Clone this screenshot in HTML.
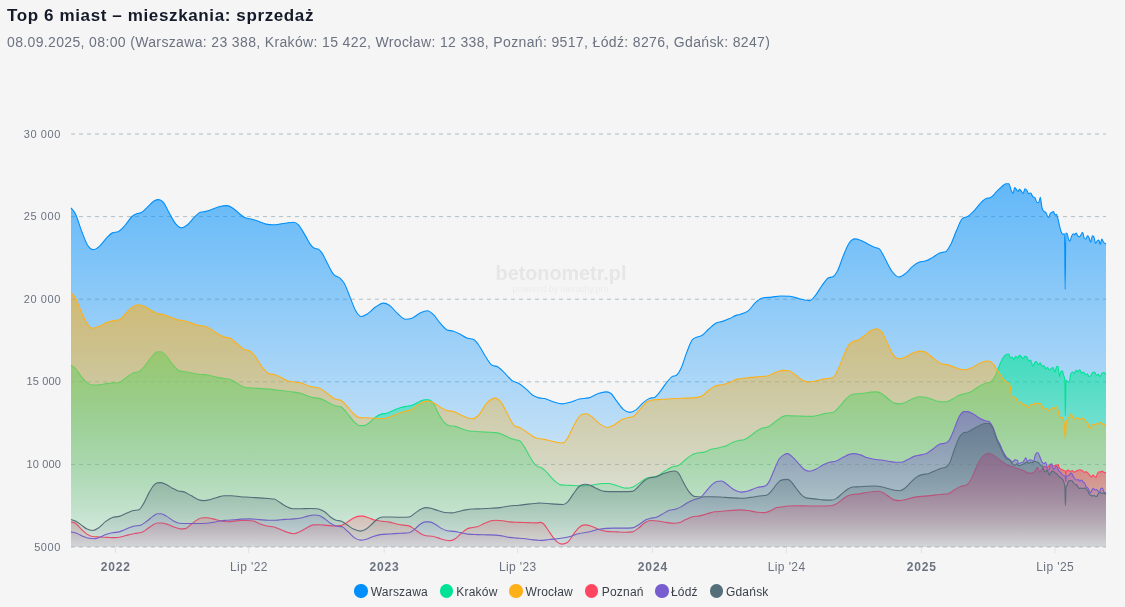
<!DOCTYPE html>
<html lang="pl"><head><meta charset="utf-8"><title>Top 6 miast – mieszkania: sprzedaż</title>
<style>
html,body{margin:0;padding:0;background:#f5f5f5;}
body{width:1125px;height:607px;overflow:hidden;position:relative;font-family:"Liberation Sans",sans-serif;}
.title{position:absolute;left:7px;top:5.6px;font-size:17px;line-height:20px;font-weight:700;color:#141a29;white-space:nowrap;letter-spacing:0.62px}
.sub{position:absolute;left:7px;top:32.7px;font-size:14px;line-height:18px;color:#6b7280;white-space:nowrap;letter-spacing:0.355px}
svg{position:absolute;left:0;top:0}
.dot{position:absolute;top:584.4px;width:13.2px;height:13.2px;border-radius:50%}
.lt{position:absolute;top:585px;font-size:12px;line-height:14px;color:#3b414b;white-space:nowrap;letter-spacing:0.22px}
</style></head><body>
<div class="title">Top 6 miast – mieszkania: sprzedaż</div>
<div class="sub">08.09.2025, 08:00 (Warszawa: 23 388, Kraków: 15 422, Wrocław: 12 338, Poznań: 9517, Łódź: 8276, Gdańsk: 8247)</div>
<svg width="1125" height="607" viewBox="0 0 1125 607">
<defs>
<linearGradient id="g0" gradientUnits="userSpaceOnUse" x1="0" y1="183.8" x2="0" y2="547"><stop offset="0" stop-color="#008FFB" stop-opacity="0.60"/><stop offset="1" stop-color="#008FFB" stop-opacity="0.05"/></linearGradient>
<linearGradient id="g1" gradientUnits="userSpaceOnUse" x1="0" y1="351.7" x2="0" y2="547"><stop offset="0" stop-color="#00E396" stop-opacity="0.60"/><stop offset="1" stop-color="#00E396" stop-opacity="0.05"/></linearGradient>
<linearGradient id="g2" gradientUnits="userSpaceOnUse" x1="0" y1="292.5" x2="0" y2="547"><stop offset="0" stop-color="#FEB019" stop-opacity="0.60"/><stop offset="1" stop-color="#FEB019" stop-opacity="0.05"/></linearGradient>
<linearGradient id="g3" gradientUnits="userSpaceOnUse" x1="0" y1="453.4" x2="0" y2="547"><stop offset="0" stop-color="#FF4560" stop-opacity="0.62"/><stop offset="1" stop-color="#FF4560" stop-opacity="0.05"/></linearGradient>
<linearGradient id="g4" gradientUnits="userSpaceOnUse" x1="0" y1="411.6" x2="0" y2="547"><stop offset="0" stop-color="#775DD0" stop-opacity="0.58"/><stop offset="1" stop-color="#775DD0" stop-opacity="0.05"/></linearGradient>
<linearGradient id="g5" gradientUnits="userSpaceOnUse" x1="0" y1="423.5" x2="0" y2="547"><stop offset="0" stop-color="#546E7A" stop-opacity="0.56"/><stop offset="1" stop-color="#546E7A" stop-opacity="0.05"/></linearGradient>
</defs>
<g stroke="#b0c0c8" stroke-width="1" stroke-dasharray="4 4" fill="none"><line x1="71" y1="134.0" x2="1106" y2="134.0"/><line x1="71" y1="216.6" x2="1106" y2="216.6"/><line x1="71" y1="299.2" x2="1106" y2="299.2"/><line x1="71" y1="381.8" x2="1106" y2="381.8"/><line x1="71" y1="464.4" x2="1106" y2="464.4"/><line x1="71" y1="547.0" x2="1106" y2="547.0"/></g>
<g font-family="Liberation Sans, sans-serif" font-size="19.8" font-weight="700" fill="#e6e6e6"><text x="495.6" y="280.2">betonometr.pl</text></g>
<g font-family="Liberation Sans, sans-serif" font-size="8.8" fill="#ebebeb"><text x="512.6" y="291.5">powered by nieruchy.pro</text></g>
<path d="M71.00 207.92C72.47 209.85 73.93 210.83 75.40 213.70C77.33 217.47 79.25 224.89 81.18 229.88C83.49 235.86 85.80 242.80 88.11 246.05C89.81 248.44 91.50 249.75 93.20 249.75C95.35 249.75 97.51 247.91 99.67 246.05C101.98 244.07 104.29 240.30 106.60 237.96C108.53 236.02 110.45 233.65 112.38 232.88C114.30 232.11 116.23 232.50 118.15 231.72C120.47 230.80 122.78 227.80 125.09 225.25C127.40 222.71 129.71 218.47 132.02 216.47C133.56 215.14 135.10 214.35 136.64 213.70C138.18 213.04 139.72 213.31 141.27 212.54C143.58 211.39 145.89 208.41 148.20 206.30C150.12 204.55 152.05 202.10 153.98 200.99C155.52 200.10 157.06 199.60 158.60 199.60C160.14 199.60 161.68 200.45 163.22 202.14C165.15 204.26 167.07 209.19 169.00 212.54C171.31 216.56 173.62 221.54 175.93 224.10C177.86 226.23 179.78 227.80 181.71 227.80C183.63 227.80 185.56 226.30 187.49 224.79C189.80 222.98 192.11 219.38 194.42 217.17C196.35 215.32 198.27 212.93 200.20 212.31C202.12 211.70 204.05 211.85 205.98 211.39C208.29 210.84 210.60 209.89 212.91 209.08C215.22 208.27 217.53 207.11 219.84 206.53C222.15 205.96 224.46 205.61 226.77 205.61C228.70 205.61 230.63 206.77 232.55 207.92C234.86 209.30 237.17 211.92 239.49 213.70C241.41 215.18 243.34 217.09 245.26 217.86C247.57 218.78 249.89 218.63 252.20 219.25C254.51 219.86 256.82 220.75 259.13 221.56C261.44 222.37 263.75 223.64 266.06 224.10C268.37 224.56 270.69 224.79 273.00 224.79C275.31 224.79 277.62 224.41 279.93 224.10C282.24 223.79 284.55 223.25 286.86 222.94C289.17 222.63 291.48 222.25 293.80 222.25C295.34 222.25 296.88 223.32 298.42 224.79C300.73 227.00 303.04 231.89 305.35 235.65C307.28 238.79 309.20 243.10 311.13 245.36C312.28 246.71 313.44 247.90 314.60 248.36C315.75 248.83 316.91 248.60 318.06 249.06C319.22 249.52 320.37 250.79 321.53 252.29C323.33 254.64 325.13 259.16 326.93 262.46C329.24 266.69 331.56 272.14 333.87 274.70C335.79 276.84 337.72 276.23 339.64 277.94C341.18 279.31 342.73 280.63 344.27 283.25C346.19 286.54 348.12 292.50 350.04 297.12C351.97 301.74 353.90 307.73 355.82 310.99C357.59 313.99 359.37 316.53 361.14 316.53C363.22 316.53 365.30 315.25 367.38 313.99C370.07 312.37 372.77 308.87 375.47 307.06C378.16 305.25 380.86 303.13 383.55 303.13C385.48 303.13 387.41 304.00 389.33 305.21C392.03 306.90 394.72 310.95 397.42 313.30C400.12 315.65 402.81 319.31 405.51 319.31C407.82 319.31 410.13 318.84 412.44 317.92C415.14 316.85 417.84 314.05 420.53 312.84C422.84 311.79 425.15 310.76 427.46 310.76C429.39 310.76 431.32 312.67 433.24 314.45C435.55 316.59 437.86 320.66 440.18 323.24C442.49 325.82 444.80 329.01 447.11 329.94C449.03 330.71 450.96 330.50 452.89 331.09C455.20 331.80 457.51 332.94 459.82 334.10C462.13 335.25 464.44 337.14 466.75 338.03C469.06 338.91 471.38 338.49 473.69 339.41C475.23 340.03 476.77 342.45 478.31 344.50C480.62 347.56 482.93 352.59 485.24 356.05C487.55 359.52 489.86 364.00 492.17 365.30C494.10 366.38 496.03 365.84 497.95 366.92C500.26 368.21 502.57 371.15 504.89 373.39C507.20 375.62 509.51 378.61 511.82 380.32C514.31 382.16 516.80 382.22 519.29 383.76C521.60 385.19 523.91 387.11 526.22 389.08C528.53 391.04 530.84 394.06 533.15 395.55C535.08 396.78 537.01 397.40 538.93 397.86C540.86 398.32 542.78 398.13 544.71 398.55C547.79 399.22 550.87 401.10 553.95 402.02C556.65 402.82 559.35 403.87 562.04 403.87C564.74 403.87 567.44 402.98 570.13 402.25C573.21 401.42 576.29 399.75 579.38 399.01C582.46 398.28 585.54 398.63 588.62 397.86C591.70 397.09 594.78 394.72 597.86 393.70C600.56 392.80 603.26 391.85 605.95 391.85C607.49 391.85 609.03 392.31 610.58 393.24C612.50 394.39 614.43 398.18 616.35 400.63C618.66 403.58 620.98 407.45 623.29 409.41C625.44 411.25 627.60 412.42 629.76 412.42C631.84 412.42 633.92 411.31 636.00 409.88C638.31 408.29 640.62 404.87 642.93 402.94C645.24 401.02 647.55 399.21 649.86 398.32C651.40 397.72 652.95 398.01 654.49 397.40C656.41 396.63 658.34 393.74 660.26 391.39C662.19 389.04 664.12 385.73 666.04 383.30C667.97 380.87 669.89 378.16 671.82 376.83C673.36 375.76 674.90 376.29 676.44 375.21C677.98 374.13 679.52 371.48 681.06 368.28C682.99 364.28 684.91 356.91 686.84 352.10C688.77 347.28 690.69 341.31 692.62 339.39C694.16 337.85 695.70 337.73 697.24 337.08C698.78 336.42 700.32 336.36 701.86 335.46C704.17 334.11 706.48 331.03 708.80 328.99C711.11 326.95 713.42 324.44 715.73 323.21C718.04 321.98 720.35 322.13 722.66 321.36C724.97 320.59 727.28 319.63 729.60 318.59C731.91 317.55 734.22 315.82 736.53 315.12C737.68 314.78 738.84 314.75 740.00 314.43C742.83 313.65 745.66 312.90 748.49 310.55C750.80 308.63 753.11 304.77 755.42 302.69C757.73 300.61 760.04 298.53 762.35 298.07C765.44 297.45 768.52 297.49 771.60 297.15C774.68 296.80 777.76 295.99 780.84 295.99C783.92 295.99 787.01 296.07 790.09 296.22C793.17 296.38 796.25 298.06 799.33 298.76C802.80 299.56 806.27 300.61 809.73 300.61C811.66 300.61 813.58 297.58 815.51 295.30C817.82 292.56 820.13 287.99 822.44 284.90C824.37 282.32 826.29 278.93 828.22 277.96C829.76 277.19 831.30 277.58 832.84 276.81C834.38 276.04 835.92 273.88 837.46 271.03C839.39 267.47 841.32 260.63 843.24 256.01C845.17 251.39 847.09 246.15 849.02 243.30C850.95 240.45 852.87 238.91 854.80 238.91C856.72 238.91 858.65 239.61 860.58 240.29C863.27 241.25 865.97 243.12 868.66 244.45C870.59 245.41 872.52 246.50 874.44 247.23C875.98 247.81 877.52 247.69 879.06 248.61C880.99 249.77 882.92 254.95 884.84 258.32C887.15 262.36 889.46 267.91 891.77 271.03C894.09 274.15 896.40 277.04 898.71 277.04C901.02 277.04 903.33 275.11 905.64 273.34C907.95 271.57 910.26 268.30 912.57 266.41C914.89 264.52 917.20 262.76 919.51 262.02C921.43 261.40 923.36 261.70 925.29 261.09C927.60 260.37 929.91 258.94 932.22 257.63C934.53 256.32 936.84 254.28 939.15 253.24C941.46 252.20 943.77 252.62 946.09 251.39C947.63 250.57 949.17 247.38 950.71 244.45C952.63 240.80 954.56 234.90 956.48 230.59C958.41 226.27 960.34 220.11 962.26 218.57C964.19 217.03 966.11 217.50 968.04 216.26C970.35 214.77 972.66 212.21 974.97 209.79C977.28 207.36 979.60 203.82 981.91 201.70C983.45 200.29 984.99 198.64 986.53 198.23C987.68 197.92 988.84 198.08 990.00 197.77C992.13 197.20 994.27 193.97 996.41 191.92C998.20 190.20 999.98 188.00 1001.76 186.56C1003.19 185.41 1004.62 183.78 1006.05 183.78C1006.98 183.78 1007.90 183.78 1008.83 183.78C1009.69 183.78 1010.55 189.07 1011.40 190.85C1011.97 192.03 1012.55 193.63 1013.12 193.63C1013.62 193.63 1014.12 187.63 1014.62 187.63C1015.19 187.63 1015.76 188.65 1016.33 189.35C1016.83 189.96 1017.33 191.49 1017.83 191.49C1018.40 191.49 1018.97 189.35 1019.54 189.35C1020.04 189.35 1020.54 190.29 1021.04 190.85C1021.75 191.65 1022.47 193.63 1023.18 193.63C1023.75 193.63 1024.32 188.71 1024.90 188.71C1025.54 188.71 1026.18 189.29 1026.82 190.20C1027.39 191.02 1027.97 193.63 1028.54 193.63C1029.25 193.63 1029.97 192.99 1030.68 192.99C1031.39 192.99 1032.11 195.81 1032.82 196.63C1033.53 197.45 1034.25 197.06 1034.96 197.91C1035.68 198.77 1036.39 202.63 1037.10 202.63C1037.68 202.63 1038.25 202.48 1038.82 202.20C1039.32 201.95 1039.82 197.27 1040.32 197.27C1040.82 197.27 1041.32 204.61 1041.82 206.91C1042.39 209.53 1042.96 210.62 1043.53 211.19C1044.24 211.91 1044.96 211.55 1045.67 212.26C1046.60 213.19 1047.53 217.62 1048.46 217.62C1049.10 217.62 1049.74 214.14 1050.38 213.34C1050.95 212.62 1051.53 212.56 1052.10 212.26C1052.60 212.00 1053.10 211.62 1053.60 211.62C1054.02 211.62 1054.45 215.05 1054.88 215.05C1055.38 215.05 1055.88 214.41 1056.38 214.41C1056.88 214.41 1057.38 216.91 1057.88 218.69C1058.45 220.73 1059.02 223.99 1059.59 226.19C1060.31 228.94 1061.02 231.97 1061.73 233.04C1062.31 233.90 1062.88 234.33 1063.45 234.33C1063.81 234.33 1064.16 233.68 1064.52 233.68C1064.73 233.68 1064.95 289.37 1065.16 289.37C1065.38 289.37 1065.59 233.04 1065.80 233.04C1066.23 233.04 1066.66 233.25 1067.09 233.68C1067.66 234.25 1068.23 238.97 1068.80 240.11C1069.16 240.82 1069.52 241.18 1069.87 241.18C1070.37 241.18 1070.87 238.09 1071.37 236.90C1071.94 235.53 1072.52 233.68 1073.09 233.68C1073.59 233.68 1074.09 234.75 1074.59 234.75C1075.09 234.75 1075.59 233.04 1076.08 233.04C1076.66 233.04 1077.23 235.18 1077.80 235.82C1078.37 236.47 1078.94 236.90 1079.51 236.90C1080.01 236.90 1080.51 235.54 1081.01 234.75C1081.51 233.97 1082.01 232.18 1082.51 232.18C1083.08 232.18 1083.65 237.25 1084.22 237.97C1084.79 238.68 1085.37 239.04 1085.94 239.04C1086.44 239.04 1086.94 235.82 1087.44 235.82C1088.01 235.82 1088.58 236.76 1089.15 237.97C1089.65 239.02 1090.15 242.25 1090.65 242.25C1091.22 242.25 1091.79 235.82 1092.36 235.82C1092.86 235.82 1093.36 236.18 1093.86 236.90C1094.43 237.71 1095.00 243.32 1095.58 243.32C1096.07 243.32 1096.57 241.71 1097.07 241.18C1097.65 240.58 1098.22 240.11 1098.79 240.11C1099.29 240.11 1099.79 244.39 1100.29 244.39C1100.79 244.39 1101.29 239.04 1101.79 239.04C1102.36 239.04 1102.93 241.47 1103.50 242.25C1104.33 243.39 1105.17 243.39 1106.00 243.96L1106.00 547 L71.00 547 Z" fill="url(#g0)" stroke="none"/>
<path d="M71.00 207.92C72.47 209.85 73.93 210.83 75.40 213.70C77.33 217.47 79.25 224.89 81.18 229.88C83.49 235.86 85.80 242.80 88.11 246.05C89.81 248.44 91.50 249.75 93.20 249.75C95.35 249.75 97.51 247.91 99.67 246.05C101.98 244.07 104.29 240.30 106.60 237.96C108.53 236.02 110.45 233.65 112.38 232.88C114.30 232.11 116.23 232.50 118.15 231.72C120.47 230.80 122.78 227.80 125.09 225.25C127.40 222.71 129.71 218.47 132.02 216.47C133.56 215.14 135.10 214.35 136.64 213.70C138.18 213.04 139.72 213.31 141.27 212.54C143.58 211.39 145.89 208.41 148.20 206.30C150.12 204.55 152.05 202.10 153.98 200.99C155.52 200.10 157.06 199.60 158.60 199.60C160.14 199.60 161.68 200.45 163.22 202.14C165.15 204.26 167.07 209.19 169.00 212.54C171.31 216.56 173.62 221.54 175.93 224.10C177.86 226.23 179.78 227.80 181.71 227.80C183.63 227.80 185.56 226.30 187.49 224.79C189.80 222.98 192.11 219.38 194.42 217.17C196.35 215.32 198.27 212.93 200.20 212.31C202.12 211.70 204.05 211.85 205.98 211.39C208.29 210.84 210.60 209.89 212.91 209.08C215.22 208.27 217.53 207.11 219.84 206.53C222.15 205.96 224.46 205.61 226.77 205.61C228.70 205.61 230.63 206.77 232.55 207.92C234.86 209.30 237.17 211.92 239.49 213.70C241.41 215.18 243.34 217.09 245.26 217.86C247.57 218.78 249.89 218.63 252.20 219.25C254.51 219.86 256.82 220.75 259.13 221.56C261.44 222.37 263.75 223.64 266.06 224.10C268.37 224.56 270.69 224.79 273.00 224.79C275.31 224.79 277.62 224.41 279.93 224.10C282.24 223.79 284.55 223.25 286.86 222.94C289.17 222.63 291.48 222.25 293.80 222.25C295.34 222.25 296.88 223.32 298.42 224.79C300.73 227.00 303.04 231.89 305.35 235.65C307.28 238.79 309.20 243.10 311.13 245.36C312.28 246.71 313.44 247.90 314.60 248.36C315.75 248.83 316.91 248.60 318.06 249.06C319.22 249.52 320.37 250.79 321.53 252.29C323.33 254.64 325.13 259.16 326.93 262.46C329.24 266.69 331.56 272.14 333.87 274.70C335.79 276.84 337.72 276.23 339.64 277.94C341.18 279.31 342.73 280.63 344.27 283.25C346.19 286.54 348.12 292.50 350.04 297.12C351.97 301.74 353.90 307.73 355.82 310.99C357.59 313.99 359.37 316.53 361.14 316.53C363.22 316.53 365.30 315.25 367.38 313.99C370.07 312.37 372.77 308.87 375.47 307.06C378.16 305.25 380.86 303.13 383.55 303.13C385.48 303.13 387.41 304.00 389.33 305.21C392.03 306.90 394.72 310.95 397.42 313.30C400.12 315.65 402.81 319.31 405.51 319.31C407.82 319.31 410.13 318.84 412.44 317.92C415.14 316.85 417.84 314.05 420.53 312.84C422.84 311.79 425.15 310.76 427.46 310.76C429.39 310.76 431.32 312.67 433.24 314.45C435.55 316.59 437.86 320.66 440.18 323.24C442.49 325.82 444.80 329.01 447.11 329.94C449.03 330.71 450.96 330.50 452.89 331.09C455.20 331.80 457.51 332.94 459.82 334.10C462.13 335.25 464.44 337.14 466.75 338.03C469.06 338.91 471.38 338.49 473.69 339.41C475.23 340.03 476.77 342.45 478.31 344.50C480.62 347.56 482.93 352.59 485.24 356.05C487.55 359.52 489.86 364.00 492.17 365.30C494.10 366.38 496.03 365.84 497.95 366.92C500.26 368.21 502.57 371.15 504.89 373.39C507.20 375.62 509.51 378.61 511.82 380.32C514.31 382.16 516.80 382.22 519.29 383.76C521.60 385.19 523.91 387.11 526.22 389.08C528.53 391.04 530.84 394.06 533.15 395.55C535.08 396.78 537.01 397.40 538.93 397.86C540.86 398.32 542.78 398.13 544.71 398.55C547.79 399.22 550.87 401.10 553.95 402.02C556.65 402.82 559.35 403.87 562.04 403.87C564.74 403.87 567.44 402.98 570.13 402.25C573.21 401.42 576.29 399.75 579.38 399.01C582.46 398.28 585.54 398.63 588.62 397.86C591.70 397.09 594.78 394.72 597.86 393.70C600.56 392.80 603.26 391.85 605.95 391.85C607.49 391.85 609.03 392.31 610.58 393.24C612.50 394.39 614.43 398.18 616.35 400.63C618.66 403.58 620.98 407.45 623.29 409.41C625.44 411.25 627.60 412.42 629.76 412.42C631.84 412.42 633.92 411.31 636.00 409.88C638.31 408.29 640.62 404.87 642.93 402.94C645.24 401.02 647.55 399.21 649.86 398.32C651.40 397.72 652.95 398.01 654.49 397.40C656.41 396.63 658.34 393.74 660.26 391.39C662.19 389.04 664.12 385.73 666.04 383.30C667.97 380.87 669.89 378.16 671.82 376.83C673.36 375.76 674.90 376.29 676.44 375.21C677.98 374.13 679.52 371.48 681.06 368.28C682.99 364.28 684.91 356.91 686.84 352.10C688.77 347.28 690.69 341.31 692.62 339.39C694.16 337.85 695.70 337.73 697.24 337.08C698.78 336.42 700.32 336.36 701.86 335.46C704.17 334.11 706.48 331.03 708.80 328.99C711.11 326.95 713.42 324.44 715.73 323.21C718.04 321.98 720.35 322.13 722.66 321.36C724.97 320.59 727.28 319.63 729.60 318.59C731.91 317.55 734.22 315.82 736.53 315.12C737.68 314.78 738.84 314.75 740.00 314.43C742.83 313.65 745.66 312.90 748.49 310.55C750.80 308.63 753.11 304.77 755.42 302.69C757.73 300.61 760.04 298.53 762.35 298.07C765.44 297.45 768.52 297.49 771.60 297.15C774.68 296.80 777.76 295.99 780.84 295.99C783.92 295.99 787.01 296.07 790.09 296.22C793.17 296.38 796.25 298.06 799.33 298.76C802.80 299.56 806.27 300.61 809.73 300.61C811.66 300.61 813.58 297.58 815.51 295.30C817.82 292.56 820.13 287.99 822.44 284.90C824.37 282.32 826.29 278.93 828.22 277.96C829.76 277.19 831.30 277.58 832.84 276.81C834.38 276.04 835.92 273.88 837.46 271.03C839.39 267.47 841.32 260.63 843.24 256.01C845.17 251.39 847.09 246.15 849.02 243.30C850.95 240.45 852.87 238.91 854.80 238.91C856.72 238.91 858.65 239.61 860.58 240.29C863.27 241.25 865.97 243.12 868.66 244.45C870.59 245.41 872.52 246.50 874.44 247.23C875.98 247.81 877.52 247.69 879.06 248.61C880.99 249.77 882.92 254.95 884.84 258.32C887.15 262.36 889.46 267.91 891.77 271.03C894.09 274.15 896.40 277.04 898.71 277.04C901.02 277.04 903.33 275.11 905.64 273.34C907.95 271.57 910.26 268.30 912.57 266.41C914.89 264.52 917.20 262.76 919.51 262.02C921.43 261.40 923.36 261.70 925.29 261.09C927.60 260.37 929.91 258.94 932.22 257.63C934.53 256.32 936.84 254.28 939.15 253.24C941.46 252.20 943.77 252.62 946.09 251.39C947.63 250.57 949.17 247.38 950.71 244.45C952.63 240.80 954.56 234.90 956.48 230.59C958.41 226.27 960.34 220.11 962.26 218.57C964.19 217.03 966.11 217.50 968.04 216.26C970.35 214.77 972.66 212.21 974.97 209.79C977.28 207.36 979.60 203.82 981.91 201.70C983.45 200.29 984.99 198.64 986.53 198.23C987.68 197.92 988.84 198.08 990.00 197.77C992.13 197.20 994.27 193.97 996.41 191.92C998.20 190.20 999.98 188.00 1001.76 186.56C1003.19 185.41 1004.62 183.78 1006.05 183.78C1006.98 183.78 1007.90 183.78 1008.83 183.78C1009.69 183.78 1010.55 189.07 1011.40 190.85C1011.97 192.03 1012.55 193.63 1013.12 193.63C1013.62 193.63 1014.12 187.63 1014.62 187.63C1015.19 187.63 1015.76 188.65 1016.33 189.35C1016.83 189.96 1017.33 191.49 1017.83 191.49C1018.40 191.49 1018.97 189.35 1019.54 189.35C1020.04 189.35 1020.54 190.29 1021.04 190.85C1021.75 191.65 1022.47 193.63 1023.18 193.63C1023.75 193.63 1024.32 188.71 1024.90 188.71C1025.54 188.71 1026.18 189.29 1026.82 190.20C1027.39 191.02 1027.97 193.63 1028.54 193.63C1029.25 193.63 1029.97 192.99 1030.68 192.99C1031.39 192.99 1032.11 195.81 1032.82 196.63C1033.53 197.45 1034.25 197.06 1034.96 197.91C1035.68 198.77 1036.39 202.63 1037.10 202.63C1037.68 202.63 1038.25 202.48 1038.82 202.20C1039.32 201.95 1039.82 197.27 1040.32 197.27C1040.82 197.27 1041.32 204.61 1041.82 206.91C1042.39 209.53 1042.96 210.62 1043.53 211.19C1044.24 211.91 1044.96 211.55 1045.67 212.26C1046.60 213.19 1047.53 217.62 1048.46 217.62C1049.10 217.62 1049.74 214.14 1050.38 213.34C1050.95 212.62 1051.53 212.56 1052.10 212.26C1052.60 212.00 1053.10 211.62 1053.60 211.62C1054.02 211.62 1054.45 215.05 1054.88 215.05C1055.38 215.05 1055.88 214.41 1056.38 214.41C1056.88 214.41 1057.38 216.91 1057.88 218.69C1058.45 220.73 1059.02 223.99 1059.59 226.19C1060.31 228.94 1061.02 231.97 1061.73 233.04C1062.31 233.90 1062.88 234.33 1063.45 234.33C1063.81 234.33 1064.16 233.68 1064.52 233.68C1064.73 233.68 1064.95 289.37 1065.16 289.37C1065.38 289.37 1065.59 233.04 1065.80 233.04C1066.23 233.04 1066.66 233.25 1067.09 233.68C1067.66 234.25 1068.23 238.97 1068.80 240.11C1069.16 240.82 1069.52 241.18 1069.87 241.18C1070.37 241.18 1070.87 238.09 1071.37 236.90C1071.94 235.53 1072.52 233.68 1073.09 233.68C1073.59 233.68 1074.09 234.75 1074.59 234.75C1075.09 234.75 1075.59 233.04 1076.08 233.04C1076.66 233.04 1077.23 235.18 1077.80 235.82C1078.37 236.47 1078.94 236.90 1079.51 236.90C1080.01 236.90 1080.51 235.54 1081.01 234.75C1081.51 233.97 1082.01 232.18 1082.51 232.18C1083.08 232.18 1083.65 237.25 1084.22 237.97C1084.79 238.68 1085.37 239.04 1085.94 239.04C1086.44 239.04 1086.94 235.82 1087.44 235.82C1088.01 235.82 1088.58 236.76 1089.15 237.97C1089.65 239.02 1090.15 242.25 1090.65 242.25C1091.22 242.25 1091.79 235.82 1092.36 235.82C1092.86 235.82 1093.36 236.18 1093.86 236.90C1094.43 237.71 1095.00 243.32 1095.58 243.32C1096.07 243.32 1096.57 241.71 1097.07 241.18C1097.65 240.58 1098.22 240.11 1098.79 240.11C1099.29 240.11 1099.79 244.39 1100.29 244.39C1100.79 244.39 1101.29 239.04 1101.79 239.04C1102.36 239.04 1102.93 241.47 1103.50 242.25C1104.33 243.39 1105.17 243.39 1106.00 243.96" fill="none" stroke="#008FFB" stroke-width="1.1" stroke-linejoin="round" stroke-linecap="butt"/>
<path d="M71.00 365.55C72.47 366.47 73.93 366.91 75.40 368.32C77.33 370.18 79.25 374.02 81.18 376.41C83.10 378.80 85.03 381.22 86.96 382.65C88.73 383.97 90.50 384.96 92.27 384.96C94.74 384.96 97.20 384.88 99.67 384.73C102.36 384.56 105.06 383.66 107.75 383.34C109.68 383.12 111.61 383.03 113.53 382.88C115.46 382.73 117.38 382.73 119.31 382.42C121.62 382.05 123.93 379.14 126.24 377.56C128.55 375.99 130.87 373.95 133.18 372.94C135.10 372.11 137.03 372.48 138.95 371.56C140.88 370.63 142.81 368.19 144.73 366.01C147.04 363.40 149.35 359.22 151.67 356.77C153.59 354.72 155.52 352.17 157.44 351.91C158.60 351.76 159.75 351.68 160.91 351.68C162.45 351.68 163.99 353.45 165.53 354.92C167.84 357.12 170.15 361.50 172.46 364.16C174.78 366.82 177.09 370.12 179.40 370.86C181.32 371.48 183.25 371.47 185.18 371.79C187.49 372.16 189.80 372.52 192.11 372.94C194.42 373.37 196.73 373.99 199.04 374.33C202.12 374.78 205.20 374.56 208.29 375.02C210.98 375.43 213.68 376.52 216.38 377.10C219.07 377.68 221.77 378.05 224.46 378.49C226.39 378.81 228.32 378.80 230.24 379.41C232.55 380.15 234.86 382.09 237.17 383.34C239.87 384.81 242.57 387.14 245.26 387.50C247.57 387.81 249.89 387.80 252.20 387.96C255.28 388.18 258.36 388.42 261.44 388.66C265.29 388.96 269.14 389.20 273.00 389.58C276.85 389.97 280.70 390.50 284.55 390.97C287.63 391.35 290.71 391.67 293.80 392.12C296.11 392.47 298.42 392.63 300.73 393.28C303.04 393.94 305.35 395.28 307.66 396.05C309.97 396.82 312.28 397.52 314.60 397.90C316.14 398.16 317.68 398.06 319.22 398.36C321.79 398.88 324.36 400.43 326.93 401.64C329.63 402.90 332.33 404.97 335.02 405.80C336.95 406.39 338.87 406.11 340.80 406.72C342.73 407.34 344.65 410.37 346.58 412.50C348.89 415.06 351.20 418.80 353.51 421.05C355.44 422.93 357.36 425.25 359.29 425.44C360.83 425.60 362.37 425.67 363.91 425.67C365.84 425.67 367.76 423.86 369.69 422.44C371.61 421.01 373.54 418.51 375.47 417.12C377.39 415.73 379.32 414.73 381.24 414.12C383.17 413.50 385.10 413.74 387.02 413.19C389.33 412.54 391.64 411.15 393.95 410.19C396.27 409.23 398.58 408.09 400.89 407.41C402.81 406.85 404.74 406.64 406.67 406.26C408.59 405.87 410.52 405.75 412.44 405.10C414.75 404.33 417.06 402.57 419.38 401.64C421.30 400.86 423.23 399.79 425.15 399.79C426.31 399.79 427.46 399.79 428.62 399.79C430.16 399.79 431.70 401.24 433.24 403.25C435.17 405.77 437.09 411.54 439.02 414.81C440.95 418.08 442.87 421.06 444.80 422.90C446.34 424.37 447.88 425.30 449.42 425.67C451.35 426.13 453.27 425.92 455.20 426.37C457.51 426.90 459.82 428.14 462.13 428.91C464.44 429.68 466.75 430.72 469.06 430.99C471.76 431.30 474.46 431.27 477.15 431.45C480.23 431.65 483.32 431.95 486.40 432.14C489.48 432.34 492.56 432.30 495.64 432.61C497.95 432.84 500.26 433.57 502.57 434.45C504.89 435.34 507.20 436.99 509.51 437.92C511.43 438.69 513.36 439.23 515.29 439.77C516.83 440.20 518.37 440.15 519.91 440.93C521.45 441.70 522.99 444.78 524.53 447.17C526.46 450.15 528.38 454.48 530.31 457.56C532.23 460.65 534.16 464.11 536.09 465.65C538.01 467.19 539.94 466.70 541.86 467.96C542.78 468.57 543.70 469.32 544.62 470.13C546.55 471.82 548.47 474.36 550.40 476.37C552.33 478.37 554.25 480.65 556.18 482.14C557.72 483.34 559.26 484.76 560.80 484.92C563.88 485.22 566.96 485.24 570.04 485.38C573.90 485.55 577.75 485.84 581.60 485.84C585.45 485.84 589.30 485.37 593.15 484.92C596.24 484.55 599.32 483.53 602.40 483.53C604.71 483.53 607.02 483.53 609.33 483.53C612.41 483.53 615.49 485.50 618.58 486.30C621.27 487.01 623.97 488.15 626.67 488.15C628.59 488.15 630.52 487.84 632.44 487.23C634.75 486.49 637.06 484.34 639.38 482.84C641.69 481.33 644.00 479.14 646.31 478.21C648.24 477.44 650.16 477.48 652.09 477.06C654.01 476.64 655.94 476.51 657.86 475.67C660.18 474.67 662.49 472.48 664.80 471.05C667.11 469.62 669.42 468.08 671.73 467.12C674.04 466.16 676.35 466.50 678.66 465.27C680.98 464.04 683.29 461.31 685.60 459.49C687.91 457.68 690.22 455.53 692.53 454.41C694.46 453.47 696.38 453.18 698.31 452.79C700.23 452.41 702.16 452.56 704.09 452.10C706.40 451.54 708.71 450.02 711.02 449.33C713.33 448.63 715.64 448.44 717.95 447.94C720.26 447.44 722.57 447.17 724.89 446.32C727.20 445.47 729.51 443.82 731.82 442.85C734.13 441.89 736.44 441.15 738.75 440.54C740.68 440.04 742.60 440.16 744.53 439.39C746.46 438.62 748.38 437.19 750.31 435.92C752.62 434.40 754.93 432.26 757.24 430.84C759.17 429.65 761.09 428.41 763.02 427.83C764.56 427.37 766.10 427.60 767.64 427.14C769.57 426.56 771.49 424.60 773.42 423.21C775.73 421.55 778.04 419.21 780.35 417.90C782.28 416.80 784.20 415.58 786.13 415.58C788.22 415.58 790.31 415.80 792.40 415.88C795.48 416.00 798.56 416.04 801.64 416.12C804.72 416.19 807.81 416.35 810.89 416.35C813.58 416.35 816.28 415.51 818.98 414.96C821.29 414.49 823.60 413.77 825.91 413.34C828.22 412.92 830.53 413.03 832.84 412.42C834.77 411.90 836.69 409.47 838.62 407.56C840.93 405.28 843.24 401.71 845.55 399.48C847.48 397.61 849.41 395.62 851.33 394.85C853.26 394.08 855.18 393.96 857.11 393.70C859.42 393.39 861.73 393.51 864.04 393.24C866.35 392.97 868.66 392.27 870.98 392.08C872.90 391.93 874.83 391.85 876.75 391.85C878.68 391.85 880.60 393.01 882.53 394.16C884.84 395.54 887.15 398.31 889.46 399.94C891.39 401.30 893.32 403.02 895.24 403.41C896.78 403.71 898.32 403.87 899.86 403.87C902.17 403.87 904.49 402.71 906.80 401.79C909.11 400.86 911.42 399.20 913.73 398.32C915.66 397.59 917.58 396.70 919.51 396.70C921.43 396.70 923.36 396.86 925.29 397.17C927.60 397.53 929.91 398.74 932.22 399.48C934.53 400.21 936.84 401.40 939.15 401.56C941.46 401.71 943.77 401.79 946.09 401.79C948.01 401.79 949.94 400.39 951.86 399.48C954.17 398.38 956.48 396.55 958.80 395.55C960.72 394.72 962.65 394.28 964.57 393.70C966.50 393.12 968.43 392.96 970.35 392.08C972.66 391.03 974.97 388.85 977.28 387.46C979.60 386.07 981.91 384.73 984.22 383.76C986.40 382.85 988.59 383.09 990.77 381.73C992.31 380.78 993.85 378.51 995.39 375.50C996.77 372.80 998.16 368.27 999.54 365.12C1000.85 362.15 1002.16 358.86 1003.47 357.04C1004.62 355.44 1005.77 354.56 1006.93 354.27C1007.54 354.12 1008.16 354.04 1008.77 354.04C1009.31 354.04 1009.85 357.73 1010.39 357.73C1010.93 357.73 1011.47 357.04 1012.01 357.04C1012.62 357.04 1013.24 359.35 1013.85 359.35C1014.47 359.35 1015.08 356.35 1015.70 356.35C1016.31 356.35 1016.93 358.19 1017.54 358.19C1018.16 358.19 1018.78 355.42 1019.39 355.42C1020.01 355.42 1020.62 355.81 1021.24 356.35C1021.85 356.89 1022.47 358.66 1023.08 358.66C1023.70 358.66 1024.31 356.35 1024.93 356.35C1025.55 356.35 1026.16 356.58 1026.78 357.04C1027.47 357.56 1028.16 360.96 1028.85 360.96C1029.47 360.96 1030.08 360.04 1030.70 360.04C1031.39 360.04 1032.08 366.27 1032.78 366.27C1033.39 366.27 1034.01 363.58 1034.62 362.81C1035.24 362.04 1035.85 361.66 1036.47 361.66C1037.08 361.66 1037.70 364.66 1038.32 364.66C1038.93 364.66 1039.55 362.81 1040.16 362.81C1040.78 362.81 1041.39 366.27 1042.01 366.27C1042.62 366.27 1043.24 365.58 1043.85 365.58C1044.47 365.58 1045.09 368.58 1045.70 368.58C1046.32 368.58 1046.93 367.43 1047.55 367.43C1048.16 367.43 1048.78 370.20 1049.39 370.20C1050.01 370.20 1050.62 369.04 1051.24 368.58C1051.85 368.12 1052.47 367.43 1053.09 367.43C1053.70 367.43 1054.32 372.04 1054.93 372.04C1055.55 372.04 1056.16 366.27 1056.78 366.27C1057.24 366.27 1057.70 366.50 1058.16 366.96C1058.62 367.43 1059.09 376.66 1059.55 376.66C1060.01 376.66 1060.47 372.04 1060.93 371.58C1061.39 371.12 1061.86 370.89 1062.32 370.89C1062.78 370.89 1063.24 373.80 1063.70 375.50C1064.09 376.93 1064.47 377.04 1064.86 380.12C1065.01 381.35 1065.16 415.89 1065.32 415.89C1065.55 415.89 1065.78 380.12 1066.01 380.12C1066.47 380.12 1066.93 380.93 1067.39 381.27C1068.01 381.73 1068.63 382.43 1069.24 382.43C1069.70 382.43 1070.16 375.50 1070.63 374.35C1071.24 372.81 1071.86 372.04 1072.47 372.04C1073.09 372.04 1073.70 373.20 1074.32 373.20C1074.93 373.20 1075.55 370.20 1076.16 370.20C1076.78 370.20 1077.40 371.58 1078.01 371.58C1078.63 371.58 1079.24 369.73 1079.86 369.73C1080.47 369.73 1081.09 373.20 1081.70 373.20C1082.32 373.20 1082.93 372.04 1083.55 372.04C1084.16 372.04 1084.78 374.81 1085.40 374.81C1086.01 374.81 1086.63 373.89 1087.24 373.89C1087.86 373.89 1088.47 376.66 1089.09 376.66C1089.70 376.66 1090.32 376.20 1090.93 375.50C1091.55 374.81 1092.17 372.81 1092.78 372.50C1093.40 372.20 1094.01 372.04 1094.63 372.04C1095.24 372.04 1095.86 375.50 1096.47 375.50C1097.09 375.50 1097.70 374.35 1098.32 374.35C1098.94 374.35 1099.55 376.66 1100.17 376.66C1100.78 376.66 1101.40 373.66 1102.01 373.20C1102.63 372.73 1103.24 372.50 1103.86 372.50C1104.57 372.50 1105.29 373.73 1106.00 374.35L1106.00 547 L71.00 547 Z" fill="url(#g1)" stroke="none"/>
<path d="M71.00 365.55C72.47 366.47 73.93 366.91 75.40 368.32C77.33 370.18 79.25 374.02 81.18 376.41C83.10 378.80 85.03 381.22 86.96 382.65C88.73 383.97 90.50 384.96 92.27 384.96C94.74 384.96 97.20 384.88 99.67 384.73C102.36 384.56 105.06 383.66 107.75 383.34C109.68 383.12 111.61 383.03 113.53 382.88C115.46 382.73 117.38 382.73 119.31 382.42C121.62 382.05 123.93 379.14 126.24 377.56C128.55 375.99 130.87 373.95 133.18 372.94C135.10 372.11 137.03 372.48 138.95 371.56C140.88 370.63 142.81 368.19 144.73 366.01C147.04 363.40 149.35 359.22 151.67 356.77C153.59 354.72 155.52 352.17 157.44 351.91C158.60 351.76 159.75 351.68 160.91 351.68C162.45 351.68 163.99 353.45 165.53 354.92C167.84 357.12 170.15 361.50 172.46 364.16C174.78 366.82 177.09 370.12 179.40 370.86C181.32 371.48 183.25 371.47 185.18 371.79C187.49 372.16 189.80 372.52 192.11 372.94C194.42 373.37 196.73 373.99 199.04 374.33C202.12 374.78 205.20 374.56 208.29 375.02C210.98 375.43 213.68 376.52 216.38 377.10C219.07 377.68 221.77 378.05 224.46 378.49C226.39 378.81 228.32 378.80 230.24 379.41C232.55 380.15 234.86 382.09 237.17 383.34C239.87 384.81 242.57 387.14 245.26 387.50C247.57 387.81 249.89 387.80 252.20 387.96C255.28 388.18 258.36 388.42 261.44 388.66C265.29 388.96 269.14 389.20 273.00 389.58C276.85 389.97 280.70 390.50 284.55 390.97C287.63 391.35 290.71 391.67 293.80 392.12C296.11 392.47 298.42 392.63 300.73 393.28C303.04 393.94 305.35 395.28 307.66 396.05C309.97 396.82 312.28 397.52 314.60 397.90C316.14 398.16 317.68 398.06 319.22 398.36C321.79 398.88 324.36 400.43 326.93 401.64C329.63 402.90 332.33 404.97 335.02 405.80C336.95 406.39 338.87 406.11 340.80 406.72C342.73 407.34 344.65 410.37 346.58 412.50C348.89 415.06 351.20 418.80 353.51 421.05C355.44 422.93 357.36 425.25 359.29 425.44C360.83 425.60 362.37 425.67 363.91 425.67C365.84 425.67 367.76 423.86 369.69 422.44C371.61 421.01 373.54 418.51 375.47 417.12C377.39 415.73 379.32 414.73 381.24 414.12C383.17 413.50 385.10 413.74 387.02 413.19C389.33 412.54 391.64 411.15 393.95 410.19C396.27 409.23 398.58 408.09 400.89 407.41C402.81 406.85 404.74 406.64 406.67 406.26C408.59 405.87 410.52 405.75 412.44 405.10C414.75 404.33 417.06 402.57 419.38 401.64C421.30 400.86 423.23 399.79 425.15 399.79C426.31 399.79 427.46 399.79 428.62 399.79C430.16 399.79 431.70 401.24 433.24 403.25C435.17 405.77 437.09 411.54 439.02 414.81C440.95 418.08 442.87 421.06 444.80 422.90C446.34 424.37 447.88 425.30 449.42 425.67C451.35 426.13 453.27 425.92 455.20 426.37C457.51 426.90 459.82 428.14 462.13 428.91C464.44 429.68 466.75 430.72 469.06 430.99C471.76 431.30 474.46 431.27 477.15 431.45C480.23 431.65 483.32 431.95 486.40 432.14C489.48 432.34 492.56 432.30 495.64 432.61C497.95 432.84 500.26 433.57 502.57 434.45C504.89 435.34 507.20 436.99 509.51 437.92C511.43 438.69 513.36 439.23 515.29 439.77C516.83 440.20 518.37 440.15 519.91 440.93C521.45 441.70 522.99 444.78 524.53 447.17C526.46 450.15 528.38 454.48 530.31 457.56C532.23 460.65 534.16 464.11 536.09 465.65C538.01 467.19 539.94 466.70 541.86 467.96C542.78 468.57 543.70 469.32 544.62 470.13C546.55 471.82 548.47 474.36 550.40 476.37C552.33 478.37 554.25 480.65 556.18 482.14C557.72 483.34 559.26 484.76 560.80 484.92C563.88 485.22 566.96 485.24 570.04 485.38C573.90 485.55 577.75 485.84 581.60 485.84C585.45 485.84 589.30 485.37 593.15 484.92C596.24 484.55 599.32 483.53 602.40 483.53C604.71 483.53 607.02 483.53 609.33 483.53C612.41 483.53 615.49 485.50 618.58 486.30C621.27 487.01 623.97 488.15 626.67 488.15C628.59 488.15 630.52 487.84 632.44 487.23C634.75 486.49 637.06 484.34 639.38 482.84C641.69 481.33 644.00 479.14 646.31 478.21C648.24 477.44 650.16 477.48 652.09 477.06C654.01 476.64 655.94 476.51 657.86 475.67C660.18 474.67 662.49 472.48 664.80 471.05C667.11 469.62 669.42 468.08 671.73 467.12C674.04 466.16 676.35 466.50 678.66 465.27C680.98 464.04 683.29 461.31 685.60 459.49C687.91 457.68 690.22 455.53 692.53 454.41C694.46 453.47 696.38 453.18 698.31 452.79C700.23 452.41 702.16 452.56 704.09 452.10C706.40 451.54 708.71 450.02 711.02 449.33C713.33 448.63 715.64 448.44 717.95 447.94C720.26 447.44 722.57 447.17 724.89 446.32C727.20 445.47 729.51 443.82 731.82 442.85C734.13 441.89 736.44 441.15 738.75 440.54C740.68 440.04 742.60 440.16 744.53 439.39C746.46 438.62 748.38 437.19 750.31 435.92C752.62 434.40 754.93 432.26 757.24 430.84C759.17 429.65 761.09 428.41 763.02 427.83C764.56 427.37 766.10 427.60 767.64 427.14C769.57 426.56 771.49 424.60 773.42 423.21C775.73 421.55 778.04 419.21 780.35 417.90C782.28 416.80 784.20 415.58 786.13 415.58C788.22 415.58 790.31 415.80 792.40 415.88C795.48 416.00 798.56 416.04 801.64 416.12C804.72 416.19 807.81 416.35 810.89 416.35C813.58 416.35 816.28 415.51 818.98 414.96C821.29 414.49 823.60 413.77 825.91 413.34C828.22 412.92 830.53 413.03 832.84 412.42C834.77 411.90 836.69 409.47 838.62 407.56C840.93 405.28 843.24 401.71 845.55 399.48C847.48 397.61 849.41 395.62 851.33 394.85C853.26 394.08 855.18 393.96 857.11 393.70C859.42 393.39 861.73 393.51 864.04 393.24C866.35 392.97 868.66 392.27 870.98 392.08C872.90 391.93 874.83 391.85 876.75 391.85C878.68 391.85 880.60 393.01 882.53 394.16C884.84 395.54 887.15 398.31 889.46 399.94C891.39 401.30 893.32 403.02 895.24 403.41C896.78 403.71 898.32 403.87 899.86 403.87C902.17 403.87 904.49 402.71 906.80 401.79C909.11 400.86 911.42 399.20 913.73 398.32C915.66 397.59 917.58 396.70 919.51 396.70C921.43 396.70 923.36 396.86 925.29 397.17C927.60 397.53 929.91 398.74 932.22 399.48C934.53 400.21 936.84 401.40 939.15 401.56C941.46 401.71 943.77 401.79 946.09 401.79C948.01 401.79 949.94 400.39 951.86 399.48C954.17 398.38 956.48 396.55 958.80 395.55C960.72 394.72 962.65 394.28 964.57 393.70C966.50 393.12 968.43 392.96 970.35 392.08C972.66 391.03 974.97 388.85 977.28 387.46C979.60 386.07 981.91 384.73 984.22 383.76C986.40 382.85 988.59 383.09 990.77 381.73C992.31 380.78 993.85 378.51 995.39 375.50C996.77 372.80 998.16 368.27 999.54 365.12C1000.85 362.15 1002.16 358.86 1003.47 357.04C1004.62 355.44 1005.77 354.56 1006.93 354.27C1007.54 354.12 1008.16 354.04 1008.77 354.04C1009.31 354.04 1009.85 357.73 1010.39 357.73C1010.93 357.73 1011.47 357.04 1012.01 357.04C1012.62 357.04 1013.24 359.35 1013.85 359.35C1014.47 359.35 1015.08 356.35 1015.70 356.35C1016.31 356.35 1016.93 358.19 1017.54 358.19C1018.16 358.19 1018.78 355.42 1019.39 355.42C1020.01 355.42 1020.62 355.81 1021.24 356.35C1021.85 356.89 1022.47 358.66 1023.08 358.66C1023.70 358.66 1024.31 356.35 1024.93 356.35C1025.55 356.35 1026.16 356.58 1026.78 357.04C1027.47 357.56 1028.16 360.96 1028.85 360.96C1029.47 360.96 1030.08 360.04 1030.70 360.04C1031.39 360.04 1032.08 366.27 1032.78 366.27C1033.39 366.27 1034.01 363.58 1034.62 362.81C1035.24 362.04 1035.85 361.66 1036.47 361.66C1037.08 361.66 1037.70 364.66 1038.32 364.66C1038.93 364.66 1039.55 362.81 1040.16 362.81C1040.78 362.81 1041.39 366.27 1042.01 366.27C1042.62 366.27 1043.24 365.58 1043.85 365.58C1044.47 365.58 1045.09 368.58 1045.70 368.58C1046.32 368.58 1046.93 367.43 1047.55 367.43C1048.16 367.43 1048.78 370.20 1049.39 370.20C1050.01 370.20 1050.62 369.04 1051.24 368.58C1051.85 368.12 1052.47 367.43 1053.09 367.43C1053.70 367.43 1054.32 372.04 1054.93 372.04C1055.55 372.04 1056.16 366.27 1056.78 366.27C1057.24 366.27 1057.70 366.50 1058.16 366.96C1058.62 367.43 1059.09 376.66 1059.55 376.66C1060.01 376.66 1060.47 372.04 1060.93 371.58C1061.39 371.12 1061.86 370.89 1062.32 370.89C1062.78 370.89 1063.24 373.80 1063.70 375.50C1064.09 376.93 1064.47 377.04 1064.86 380.12C1065.01 381.35 1065.16 415.89 1065.32 415.89C1065.55 415.89 1065.78 380.12 1066.01 380.12C1066.47 380.12 1066.93 380.93 1067.39 381.27C1068.01 381.73 1068.63 382.43 1069.24 382.43C1069.70 382.43 1070.16 375.50 1070.63 374.35C1071.24 372.81 1071.86 372.04 1072.47 372.04C1073.09 372.04 1073.70 373.20 1074.32 373.20C1074.93 373.20 1075.55 370.20 1076.16 370.20C1076.78 370.20 1077.40 371.58 1078.01 371.58C1078.63 371.58 1079.24 369.73 1079.86 369.73C1080.47 369.73 1081.09 373.20 1081.70 373.20C1082.32 373.20 1082.93 372.04 1083.55 372.04C1084.16 372.04 1084.78 374.81 1085.40 374.81C1086.01 374.81 1086.63 373.89 1087.24 373.89C1087.86 373.89 1088.47 376.66 1089.09 376.66C1089.70 376.66 1090.32 376.20 1090.93 375.50C1091.55 374.81 1092.17 372.81 1092.78 372.50C1093.40 372.20 1094.01 372.04 1094.63 372.04C1095.24 372.04 1095.86 375.50 1096.47 375.50C1097.09 375.50 1097.70 374.35 1098.32 374.35C1098.94 374.35 1099.55 376.66 1100.17 376.66C1100.78 376.66 1101.40 373.66 1102.01 373.20C1102.63 372.73 1103.24 372.50 1103.86 372.50C1104.57 372.50 1105.29 373.73 1106.00 374.35" fill="none" stroke="#00E396" stroke-width="1.1" stroke-linejoin="round" stroke-linecap="butt"/>
<path d="M71.00 292.52C72.47 294.29 73.93 295.31 75.40 297.83C77.33 301.15 79.25 307.46 81.18 311.70C83.10 315.94 85.03 320.45 86.96 323.25C88.73 325.84 90.50 328.34 92.27 328.34C94.74 328.34 97.20 327.23 99.67 326.26C102.36 325.20 105.06 323.05 107.75 322.10C109.68 321.42 111.61 321.10 113.53 320.71C115.46 320.33 117.38 320.40 119.31 319.79C121.62 319.05 123.93 315.09 126.24 312.85C128.55 310.62 130.87 307.68 133.18 306.38C135.10 305.31 137.03 304.77 138.95 304.77C140.88 304.77 142.81 305.78 144.73 306.62C147.04 307.61 149.35 309.29 151.67 310.54C153.59 311.59 155.52 312.93 157.44 313.55C159.37 314.16 161.29 313.98 163.22 314.47C165.53 315.06 167.84 316.13 170.15 317.01C172.46 317.90 174.78 319.17 177.09 319.79C179.40 320.40 181.71 320.21 184.02 320.71C186.33 321.21 188.64 322.02 190.95 322.79C193.26 323.56 195.58 324.76 197.89 325.33C200.20 325.91 202.51 325.64 204.82 326.26C206.75 326.77 208.67 327.94 210.60 329.03C212.91 330.34 215.22 332.31 217.53 333.65C219.84 335.00 222.15 336.34 224.46 337.12C226.39 337.77 228.32 337.51 230.24 338.28C232.55 339.20 234.86 342.21 237.17 344.05C239.49 345.90 241.80 348.21 244.11 349.37C246.03 350.34 247.96 349.91 249.89 350.99C251.43 351.85 252.97 353.76 254.51 355.61C256.82 358.38 259.13 363.04 261.44 366.01C263.75 368.98 266.06 372.48 268.37 373.41C270.30 374.18 272.23 373.97 274.15 374.56C276.46 375.27 278.77 376.49 281.09 377.56C283.40 378.64 285.71 380.42 288.02 381.03C290.33 381.65 292.64 381.61 294.95 381.96C296.88 382.24 298.80 382.36 300.73 382.88C303.04 383.50 305.35 384.92 307.66 385.65C309.97 386.39 312.28 386.85 314.60 387.27C316.14 387.55 317.68 387.50 319.22 387.96C321.79 388.74 324.36 391.51 326.93 393.32C329.63 395.21 332.33 398.02 335.02 399.09C336.95 399.87 338.87 399.48 340.80 400.25C342.73 401.02 344.65 403.58 346.58 405.57C348.89 407.95 351.20 411.57 353.51 413.65C355.44 415.39 357.36 417.46 359.29 417.58C361.60 417.74 363.91 417.72 366.22 417.81C369.30 417.94 372.38 418.16 375.47 418.28C378.16 418.38 380.86 418.51 383.55 418.51C385.87 418.51 388.18 417.45 390.49 416.66C393.18 415.74 395.88 414.11 398.58 413.19C400.89 412.40 403.20 411.98 405.51 411.34C407.44 410.82 409.36 410.63 411.29 409.73C413.60 408.64 415.91 406.31 418.22 404.87C420.15 403.67 422.07 402.02 424.00 401.64C425.54 401.33 427.08 401.17 428.62 401.17C430.55 401.17 432.47 402.29 434.40 403.25C436.71 404.41 439.02 406.62 441.33 407.88C443.26 408.92 445.18 409.78 447.11 410.42C449.42 411.18 451.73 411.04 454.04 411.81C456.35 412.58 458.66 414.00 460.98 415.04C463.29 416.08 465.60 417.44 467.91 418.05C469.60 418.49 471.30 418.74 472.99 418.74C474.76 418.74 476.54 417.15 478.31 415.50C481.18 412.82 484.06 405.86 486.93 402.94C489.63 400.21 492.33 398.09 495.02 398.09C496.95 398.09 498.87 399.51 500.80 401.79C503.11 404.52 505.42 410.45 507.73 414.50C510.04 418.54 512.35 424.57 514.67 426.05C516.59 427.29 518.52 426.98 520.44 427.90C522.75 429.01 525.07 430.98 527.38 432.52C529.69 434.07 532.00 436.09 534.31 437.15C536.24 438.02 538.16 438.32 540.09 438.76C542.40 439.29 544.71 439.45 547.02 439.92C550.10 440.54 553.18 441.72 556.27 442.23C558.58 442.61 560.89 442.92 563.20 442.92C564.74 442.92 566.28 439.90 567.82 437.61C570.13 434.17 572.44 427.59 574.75 423.74C577.06 419.89 579.38 415.13 581.69 414.50C583.38 414.04 585.08 413.80 586.77 413.80C588.93 413.80 591.09 416.31 593.24 417.96C595.55 419.74 597.86 422.63 600.18 424.20C602.49 425.78 604.80 427.44 607.11 427.44C609.42 427.44 611.73 426.06 614.04 424.90C616.74 423.55 619.43 420.89 622.13 419.58C624.06 418.65 625.98 417.97 627.91 417.50C629.45 417.13 630.99 417.27 632.53 416.81C634.84 416.12 637.15 412.30 639.46 409.88C641.77 407.45 644.09 403.89 646.40 402.25C647.94 401.16 649.48 400.40 651.02 400.17C654.10 399.71 657.18 399.69 660.26 399.48C664.12 399.21 667.97 398.98 671.82 398.78C675.67 398.59 679.52 398.52 683.37 398.32C688.00 398.08 692.62 398.01 697.24 397.40C698.78 397.19 700.32 396.80 701.86 396.01C704.17 394.82 706.48 391.93 708.80 390.23C711.11 388.54 713.42 386.61 715.73 385.84C718.04 385.07 720.35 385.22 722.66 384.69C724.97 384.15 727.28 383.49 729.60 382.61C732.04 381.67 734.49 379.75 736.93 379.14C740.01 378.37 743.10 378.33 746.18 377.98C750.03 377.54 753.88 377.24 757.73 376.83C761.20 376.46 764.67 376.44 768.13 375.67C770.83 375.07 773.53 373.13 776.22 372.21C778.53 371.42 780.84 370.36 783.15 370.36C785.08 370.36 787.01 370.51 788.93 370.82C791.24 371.19 793.55 373.63 795.87 375.21C798.18 376.79 800.49 379.12 802.80 380.29C804.72 381.27 806.65 382.14 808.58 382.14C810.89 382.14 813.20 381.47 815.51 380.99C818.21 380.43 820.90 379.43 823.60 378.91C826.68 378.31 829.76 378.52 832.84 377.75C834.38 377.37 835.92 373.56 837.46 370.59C839.39 366.88 841.32 361.04 843.24 356.72C845.17 352.41 847.09 347.29 849.02 344.70C850.56 342.64 852.10 342.01 853.64 341.24C855.18 340.47 856.72 340.79 858.26 340.08C860.19 339.20 862.12 337.35 864.04 335.92C866.35 334.21 868.66 331.82 870.98 330.61C872.90 329.60 874.83 328.76 876.75 328.76C878.29 328.76 879.83 329.60 881.38 331.30C883.30 333.42 885.23 339.00 887.15 342.85C889.08 346.71 891.00 351.74 892.93 354.41C894.70 356.87 896.47 358.80 898.25 358.80C900.33 358.80 902.41 358.14 904.49 357.41C907.18 356.47 909.88 354.33 912.57 353.25C914.89 352.33 917.20 351.17 919.51 351.17C921.05 351.17 922.59 351.33 924.13 351.64C926.44 352.10 928.75 354.56 931.06 356.26C933.37 357.95 935.69 360.37 938.00 361.81C939.54 362.76 941.08 363.73 942.62 364.12C944.05 364.48 945.49 364.36 946.92 364.66C949.23 365.13 951.54 366.20 953.85 366.96C956.16 367.73 958.46 368.83 960.77 369.27C962.31 369.57 963.85 369.73 965.39 369.73C967.69 369.73 970.00 368.46 972.31 367.43C974.62 366.39 976.93 364.60 979.23 363.50C981.16 362.59 983.08 361.42 985.00 361.19C986.31 361.04 987.62 360.96 988.93 360.96C990.31 360.96 991.70 362.45 993.08 363.96C994.62 365.64 996.16 368.58 997.70 370.89C999.24 373.20 1000.77 375.89 1002.31 377.81C1003.85 379.73 1005.39 381.20 1006.93 382.43C1007.70 383.04 1008.47 382.97 1009.24 384.04C1009.70 384.69 1010.16 385.43 1010.62 388.20C1010.93 390.04 1011.24 395.89 1011.54 396.27C1012.16 397.04 1012.77 397.43 1013.39 397.43C1014.01 397.43 1014.62 396.97 1015.24 396.97C1015.85 396.97 1016.47 399.85 1017.08 400.89C1017.70 401.93 1018.31 403.20 1018.93 403.20C1019.54 403.20 1020.16 402.04 1020.78 402.04C1021.39 402.04 1022.01 403.43 1022.62 403.89C1023.24 404.35 1023.85 404.54 1024.47 404.81C1025.08 405.08 1025.70 405.04 1026.31 405.51C1026.93 405.97 1027.55 407.81 1028.16 407.81C1028.78 407.81 1029.39 406.08 1030.01 405.51C1030.62 404.93 1031.24 404.35 1031.85 404.35C1032.47 404.35 1033.08 404.81 1033.70 404.81C1034.31 404.81 1034.93 402.74 1035.55 402.74C1036.16 402.74 1036.78 403.89 1037.39 403.89C1038.01 403.89 1038.62 403.20 1039.24 403.20C1039.85 403.20 1040.47 403.58 1041.08 404.35C1041.70 405.12 1042.32 407.04 1042.93 407.81C1043.55 408.58 1044.16 408.97 1044.78 408.97C1045.39 408.97 1046.01 408.51 1046.62 408.51C1047.24 408.51 1047.85 410.81 1048.47 410.81C1049.09 410.81 1049.70 409.93 1050.32 409.43C1050.93 408.93 1051.55 407.81 1052.16 407.81C1052.78 407.81 1053.39 408.97 1054.01 408.97C1054.62 408.97 1055.24 406.66 1055.86 406.66C1056.32 406.66 1056.78 406.81 1057.24 407.12C1057.70 407.43 1058.16 411.81 1058.62 413.58C1059.09 415.35 1059.55 417.74 1060.01 417.74C1060.47 417.74 1060.93 417.05 1061.39 417.05C1061.86 417.05 1062.32 417.43 1062.78 418.20C1063.24 418.97 1063.70 419.74 1064.16 422.81C1064.55 425.38 1064.93 438.97 1065.32 438.97C1065.63 438.97 1065.93 424.87 1066.24 422.81C1066.70 419.74 1067.16 418.86 1067.63 418.20C1068.16 417.43 1068.70 417.66 1069.24 417.05C1069.86 416.34 1070.47 414.04 1071.09 414.04C1071.70 414.04 1072.32 416.85 1072.93 417.74C1073.55 418.62 1074.16 419.35 1074.78 419.35C1075.40 419.35 1076.01 417.74 1076.63 417.74C1077.24 417.74 1077.86 417.93 1078.47 418.20C1079.09 418.47 1079.70 419.35 1080.32 419.35C1080.93 419.35 1081.55 418.20 1082.16 418.20C1082.78 418.20 1083.40 418.43 1084.01 418.89C1084.63 419.35 1085.24 421.01 1085.86 421.66C1086.47 422.31 1087.09 422.05 1087.70 422.81C1088.32 423.58 1088.93 428.58 1089.55 428.58C1090.17 428.58 1090.78 427.05 1091.40 426.28C1092.01 425.51 1092.63 423.97 1093.24 423.97C1093.86 423.97 1094.47 424.66 1095.09 424.66C1095.70 424.66 1096.32 423.51 1096.94 423.51C1097.55 423.51 1098.17 423.97 1098.78 423.97C1099.40 423.97 1100.01 422.35 1100.63 422.35C1101.24 422.35 1101.86 423.58 1102.47 423.97C1103.09 424.35 1103.70 424.37 1104.32 424.66C1104.88 424.92 1105.44 425.28 1106.00 425.58L1106.00 547 L71.00 547 Z" fill="url(#g2)" stroke="none"/>
<path d="M71.00 292.52C72.47 294.29 73.93 295.31 75.40 297.83C77.33 301.15 79.25 307.46 81.18 311.70C83.10 315.94 85.03 320.45 86.96 323.25C88.73 325.84 90.50 328.34 92.27 328.34C94.74 328.34 97.20 327.23 99.67 326.26C102.36 325.20 105.06 323.05 107.75 322.10C109.68 321.42 111.61 321.10 113.53 320.71C115.46 320.33 117.38 320.40 119.31 319.79C121.62 319.05 123.93 315.09 126.24 312.85C128.55 310.62 130.87 307.68 133.18 306.38C135.10 305.31 137.03 304.77 138.95 304.77C140.88 304.77 142.81 305.78 144.73 306.62C147.04 307.61 149.35 309.29 151.67 310.54C153.59 311.59 155.52 312.93 157.44 313.55C159.37 314.16 161.29 313.98 163.22 314.47C165.53 315.06 167.84 316.13 170.15 317.01C172.46 317.90 174.78 319.17 177.09 319.79C179.40 320.40 181.71 320.21 184.02 320.71C186.33 321.21 188.64 322.02 190.95 322.79C193.26 323.56 195.58 324.76 197.89 325.33C200.20 325.91 202.51 325.64 204.82 326.26C206.75 326.77 208.67 327.94 210.60 329.03C212.91 330.34 215.22 332.31 217.53 333.65C219.84 335.00 222.15 336.34 224.46 337.12C226.39 337.77 228.32 337.51 230.24 338.28C232.55 339.20 234.86 342.21 237.17 344.05C239.49 345.90 241.80 348.21 244.11 349.37C246.03 350.34 247.96 349.91 249.89 350.99C251.43 351.85 252.97 353.76 254.51 355.61C256.82 358.38 259.13 363.04 261.44 366.01C263.75 368.98 266.06 372.48 268.37 373.41C270.30 374.18 272.23 373.97 274.15 374.56C276.46 375.27 278.77 376.49 281.09 377.56C283.40 378.64 285.71 380.42 288.02 381.03C290.33 381.65 292.64 381.61 294.95 381.96C296.88 382.24 298.80 382.36 300.73 382.88C303.04 383.50 305.35 384.92 307.66 385.65C309.97 386.39 312.28 386.85 314.60 387.27C316.14 387.55 317.68 387.50 319.22 387.96C321.79 388.74 324.36 391.51 326.93 393.32C329.63 395.21 332.33 398.02 335.02 399.09C336.95 399.87 338.87 399.48 340.80 400.25C342.73 401.02 344.65 403.58 346.58 405.57C348.89 407.95 351.20 411.57 353.51 413.65C355.44 415.39 357.36 417.46 359.29 417.58C361.60 417.74 363.91 417.72 366.22 417.81C369.30 417.94 372.38 418.16 375.47 418.28C378.16 418.38 380.86 418.51 383.55 418.51C385.87 418.51 388.18 417.45 390.49 416.66C393.18 415.74 395.88 414.11 398.58 413.19C400.89 412.40 403.20 411.98 405.51 411.34C407.44 410.82 409.36 410.63 411.29 409.73C413.60 408.64 415.91 406.31 418.22 404.87C420.15 403.67 422.07 402.02 424.00 401.64C425.54 401.33 427.08 401.17 428.62 401.17C430.55 401.17 432.47 402.29 434.40 403.25C436.71 404.41 439.02 406.62 441.33 407.88C443.26 408.92 445.18 409.78 447.11 410.42C449.42 411.18 451.73 411.04 454.04 411.81C456.35 412.58 458.66 414.00 460.98 415.04C463.29 416.08 465.60 417.44 467.91 418.05C469.60 418.49 471.30 418.74 472.99 418.74C474.76 418.74 476.54 417.15 478.31 415.50C481.18 412.82 484.06 405.86 486.93 402.94C489.63 400.21 492.33 398.09 495.02 398.09C496.95 398.09 498.87 399.51 500.80 401.79C503.11 404.52 505.42 410.45 507.73 414.50C510.04 418.54 512.35 424.57 514.67 426.05C516.59 427.29 518.52 426.98 520.44 427.90C522.75 429.01 525.07 430.98 527.38 432.52C529.69 434.07 532.00 436.09 534.31 437.15C536.24 438.02 538.16 438.32 540.09 438.76C542.40 439.29 544.71 439.45 547.02 439.92C550.10 440.54 553.18 441.72 556.27 442.23C558.58 442.61 560.89 442.92 563.20 442.92C564.74 442.92 566.28 439.90 567.82 437.61C570.13 434.17 572.44 427.59 574.75 423.74C577.06 419.89 579.38 415.13 581.69 414.50C583.38 414.04 585.08 413.80 586.77 413.80C588.93 413.80 591.09 416.31 593.24 417.96C595.55 419.74 597.86 422.63 600.18 424.20C602.49 425.78 604.80 427.44 607.11 427.44C609.42 427.44 611.73 426.06 614.04 424.90C616.74 423.55 619.43 420.89 622.13 419.58C624.06 418.65 625.98 417.97 627.91 417.50C629.45 417.13 630.99 417.27 632.53 416.81C634.84 416.12 637.15 412.30 639.46 409.88C641.77 407.45 644.09 403.89 646.40 402.25C647.94 401.16 649.48 400.40 651.02 400.17C654.10 399.71 657.18 399.69 660.26 399.48C664.12 399.21 667.97 398.98 671.82 398.78C675.67 398.59 679.52 398.52 683.37 398.32C688.00 398.08 692.62 398.01 697.24 397.40C698.78 397.19 700.32 396.80 701.86 396.01C704.17 394.82 706.48 391.93 708.80 390.23C711.11 388.54 713.42 386.61 715.73 385.84C718.04 385.07 720.35 385.22 722.66 384.69C724.97 384.15 727.28 383.49 729.60 382.61C732.04 381.67 734.49 379.75 736.93 379.14C740.01 378.37 743.10 378.33 746.18 377.98C750.03 377.54 753.88 377.24 757.73 376.83C761.20 376.46 764.67 376.44 768.13 375.67C770.83 375.07 773.53 373.13 776.22 372.21C778.53 371.42 780.84 370.36 783.15 370.36C785.08 370.36 787.01 370.51 788.93 370.82C791.24 371.19 793.55 373.63 795.87 375.21C798.18 376.79 800.49 379.12 802.80 380.29C804.72 381.27 806.65 382.14 808.58 382.14C810.89 382.14 813.20 381.47 815.51 380.99C818.21 380.43 820.90 379.43 823.60 378.91C826.68 378.31 829.76 378.52 832.84 377.75C834.38 377.37 835.92 373.56 837.46 370.59C839.39 366.88 841.32 361.04 843.24 356.72C845.17 352.41 847.09 347.29 849.02 344.70C850.56 342.64 852.10 342.01 853.64 341.24C855.18 340.47 856.72 340.79 858.26 340.08C860.19 339.20 862.12 337.35 864.04 335.92C866.35 334.21 868.66 331.82 870.98 330.61C872.90 329.60 874.83 328.76 876.75 328.76C878.29 328.76 879.83 329.60 881.38 331.30C883.30 333.42 885.23 339.00 887.15 342.85C889.08 346.71 891.00 351.74 892.93 354.41C894.70 356.87 896.47 358.80 898.25 358.80C900.33 358.80 902.41 358.14 904.49 357.41C907.18 356.47 909.88 354.33 912.57 353.25C914.89 352.33 917.20 351.17 919.51 351.17C921.05 351.17 922.59 351.33 924.13 351.64C926.44 352.10 928.75 354.56 931.06 356.26C933.37 357.95 935.69 360.37 938.00 361.81C939.54 362.76 941.08 363.73 942.62 364.12C944.05 364.48 945.49 364.36 946.92 364.66C949.23 365.13 951.54 366.20 953.85 366.96C956.16 367.73 958.46 368.83 960.77 369.27C962.31 369.57 963.85 369.73 965.39 369.73C967.69 369.73 970.00 368.46 972.31 367.43C974.62 366.39 976.93 364.60 979.23 363.50C981.16 362.59 983.08 361.42 985.00 361.19C986.31 361.04 987.62 360.96 988.93 360.96C990.31 360.96 991.70 362.45 993.08 363.96C994.62 365.64 996.16 368.58 997.70 370.89C999.24 373.20 1000.77 375.89 1002.31 377.81C1003.85 379.73 1005.39 381.20 1006.93 382.43C1007.70 383.04 1008.47 382.97 1009.24 384.04C1009.70 384.69 1010.16 385.43 1010.62 388.20C1010.93 390.04 1011.24 395.89 1011.54 396.27C1012.16 397.04 1012.77 397.43 1013.39 397.43C1014.01 397.43 1014.62 396.97 1015.24 396.97C1015.85 396.97 1016.47 399.85 1017.08 400.89C1017.70 401.93 1018.31 403.20 1018.93 403.20C1019.54 403.20 1020.16 402.04 1020.78 402.04C1021.39 402.04 1022.01 403.43 1022.62 403.89C1023.24 404.35 1023.85 404.54 1024.47 404.81C1025.08 405.08 1025.70 405.04 1026.31 405.51C1026.93 405.97 1027.55 407.81 1028.16 407.81C1028.78 407.81 1029.39 406.08 1030.01 405.51C1030.62 404.93 1031.24 404.35 1031.85 404.35C1032.47 404.35 1033.08 404.81 1033.70 404.81C1034.31 404.81 1034.93 402.74 1035.55 402.74C1036.16 402.74 1036.78 403.89 1037.39 403.89C1038.01 403.89 1038.62 403.20 1039.24 403.20C1039.85 403.20 1040.47 403.58 1041.08 404.35C1041.70 405.12 1042.32 407.04 1042.93 407.81C1043.55 408.58 1044.16 408.97 1044.78 408.97C1045.39 408.97 1046.01 408.51 1046.62 408.51C1047.24 408.51 1047.85 410.81 1048.47 410.81C1049.09 410.81 1049.70 409.93 1050.32 409.43C1050.93 408.93 1051.55 407.81 1052.16 407.81C1052.78 407.81 1053.39 408.97 1054.01 408.97C1054.62 408.97 1055.24 406.66 1055.86 406.66C1056.32 406.66 1056.78 406.81 1057.24 407.12C1057.70 407.43 1058.16 411.81 1058.62 413.58C1059.09 415.35 1059.55 417.74 1060.01 417.74C1060.47 417.74 1060.93 417.05 1061.39 417.05C1061.86 417.05 1062.32 417.43 1062.78 418.20C1063.24 418.97 1063.70 419.74 1064.16 422.81C1064.55 425.38 1064.93 438.97 1065.32 438.97C1065.63 438.97 1065.93 424.87 1066.24 422.81C1066.70 419.74 1067.16 418.86 1067.63 418.20C1068.16 417.43 1068.70 417.66 1069.24 417.05C1069.86 416.34 1070.47 414.04 1071.09 414.04C1071.70 414.04 1072.32 416.85 1072.93 417.74C1073.55 418.62 1074.16 419.35 1074.78 419.35C1075.40 419.35 1076.01 417.74 1076.63 417.74C1077.24 417.74 1077.86 417.93 1078.47 418.20C1079.09 418.47 1079.70 419.35 1080.32 419.35C1080.93 419.35 1081.55 418.20 1082.16 418.20C1082.78 418.20 1083.40 418.43 1084.01 418.89C1084.63 419.35 1085.24 421.01 1085.86 421.66C1086.47 422.31 1087.09 422.05 1087.70 422.81C1088.32 423.58 1088.93 428.58 1089.55 428.58C1090.17 428.58 1090.78 427.05 1091.40 426.28C1092.01 425.51 1092.63 423.97 1093.24 423.97C1093.86 423.97 1094.47 424.66 1095.09 424.66C1095.70 424.66 1096.32 423.51 1096.94 423.51C1097.55 423.51 1098.17 423.97 1098.78 423.97C1099.40 423.97 1100.01 422.35 1100.63 422.35C1101.24 422.35 1101.86 423.58 1102.47 423.97C1103.09 424.35 1103.70 424.37 1104.32 424.66C1104.88 424.92 1105.44 425.28 1106.00 425.58" fill="none" stroke="#FEB019" stroke-width="1.1" stroke-linejoin="round" stroke-linecap="butt"/>
<path d="M71.00 521.68C72.47 522.22 73.93 522.36 75.40 523.30C77.33 524.53 79.25 527.27 81.18 529.08C83.10 530.89 85.03 532.91 86.96 534.16C88.73 535.31 90.50 536.25 92.27 536.47C94.74 536.78 97.20 536.79 99.67 536.93C102.36 537.10 105.06 537.28 107.75 537.40C110.07 537.50 112.38 537.63 114.69 537.63C117.00 537.63 119.31 537.17 121.62 536.70C123.93 536.24 126.24 535.44 128.55 534.85C130.48 534.37 132.41 533.84 134.33 533.47C136.64 533.02 138.95 533.16 141.27 532.54C143.19 532.03 145.12 530.35 147.04 529.08C148.97 527.81 150.89 525.96 152.82 524.92C154.36 524.08 155.90 523.07 157.44 523.07C158.98 523.07 160.52 523.07 162.06 523.07C163.99 523.07 165.92 523.85 167.84 524.45C170.15 525.18 172.46 526.45 174.78 527.23C176.70 527.87 178.63 528.85 180.55 528.85C182.09 528.85 183.63 528.77 185.18 528.61C187.10 528.42 189.03 525.85 190.95 524.45C193.26 522.78 195.58 520.53 197.89 519.37C199.43 518.59 200.97 517.75 202.51 517.75C204.05 517.75 205.59 517.75 207.13 517.75C209.06 517.75 210.98 518.46 212.91 518.91C215.22 519.44 217.53 520.29 219.84 520.76C222.15 521.22 224.46 521.68 226.77 521.68C229.09 521.68 231.40 521.41 233.71 521.22C236.02 521.03 238.33 520.53 240.64 520.53C242.95 520.53 245.26 520.53 247.57 520.53C249.50 520.53 251.43 520.68 253.35 520.99C255.66 521.36 257.97 523.14 260.29 523.99C262.60 524.84 264.91 525.57 267.22 526.07C269.53 526.57 271.84 526.38 274.15 527.00C276.46 527.61 278.77 528.85 281.09 529.77C283.40 530.69 285.71 531.87 288.02 532.54C289.94 533.10 291.87 533.70 293.80 533.70C295.72 533.70 297.65 532.68 299.57 531.85C301.88 530.85 304.20 529.08 306.51 527.92C308.82 526.77 311.13 525.10 313.44 524.92C315.37 524.76 317.29 524.69 319.22 524.69C321.79 524.69 324.36 525.13 326.93 525.38C329.24 525.60 331.56 526.07 333.87 526.07C336.18 526.07 338.49 525.92 340.80 525.61C342.73 525.35 344.65 523.74 346.58 522.61C348.89 521.25 351.20 519.09 353.51 517.98C355.44 517.06 357.36 516.13 359.29 516.13C360.44 516.13 361.60 516.13 362.75 516.13C364.68 516.13 366.61 517.14 368.53 517.75C370.84 518.49 373.15 519.72 375.47 520.29C377.78 520.87 380.09 520.91 382.40 521.22C384.71 521.53 387.02 521.68 389.33 522.14C391.64 522.61 393.95 523.49 396.27 523.99C398.58 524.49 400.89 524.82 403.20 525.15C405.12 525.42 407.05 525.38 408.98 525.84C410.90 526.30 412.83 528.28 414.75 529.54C417.06 531.05 419.38 533.06 421.69 534.16C423.23 534.90 424.77 535.53 426.31 535.78C428.24 536.09 430.16 535.93 432.09 536.24C434.01 536.55 435.94 537.30 437.86 537.86C440.18 538.53 442.49 539.47 444.80 539.94C446.72 540.33 448.65 540.63 450.58 540.63C452.12 540.63 453.66 539.73 455.20 538.78C457.12 537.60 459.05 535.32 460.98 533.70C462.90 532.08 464.83 530.08 466.75 529.08C468.29 528.27 469.83 528.06 471.38 527.69C473.30 527.23 475.23 527.34 477.15 526.77C479.46 526.07 481.77 524.53 484.09 523.53C486.40 522.53 488.71 521.22 491.02 520.76C492.56 520.45 494.10 520.29 495.64 520.29C497.95 520.29 500.26 520.49 502.57 520.76C504.89 521.03 507.20 521.68 509.51 521.91C512.59 522.22 515.67 522.26 518.75 522.37C521.83 522.49 524.91 522.53 528.00 522.61C531.08 522.68 534.16 522.84 537.24 522.84C538.16 522.84 539.08 522.36 540.00 522.36C541.16 522.36 542.31 522.85 543.47 523.74C545.39 525.23 547.32 529.19 549.24 531.83C551.56 535.00 553.87 539.02 556.18 541.08C558.10 542.79 560.03 544.08 561.96 544.08C563.88 544.08 565.81 543.46 567.73 542.23C569.66 541.00 571.58 536.65 573.51 534.14C575.44 531.64 577.36 528.75 579.29 527.21C581.21 525.67 583.14 524.90 585.07 524.90C586.99 524.90 588.92 525.48 590.84 526.05C593.54 526.85 596.24 528.63 598.93 529.52C601.63 530.41 604.32 531.10 607.02 531.37C610.10 531.68 613.18 531.68 616.27 531.83C619.35 531.99 622.43 532.29 625.51 532.29C627.82 532.29 630.13 532.14 632.44 531.83C634.37 531.57 636.29 529.72 638.22 528.36C640.53 526.73 642.84 523.92 645.15 522.59C647.08 521.48 649.01 520.51 650.93 520.51C653.24 520.51 655.55 520.70 657.86 520.97C660.56 521.28 663.26 521.97 665.95 522.36C668.65 522.74 671.35 523.28 674.04 523.28C675.58 523.28 677.12 523.13 678.66 522.82C680.98 522.36 683.29 520.58 685.60 519.58C687.91 518.58 690.22 517.43 692.53 516.81C694.84 516.19 697.15 516.35 699.46 515.88C701.77 515.42 704.09 514.67 706.40 514.04C709.09 513.29 711.79 512.03 714.49 511.72C717.18 511.42 719.88 511.47 722.57 511.26C725.66 511.02 728.74 510.57 731.82 510.34C734.90 510.11 737.98 509.88 741.06 509.88C743.37 509.88 745.69 510.26 748.00 510.57C751.08 510.98 754.16 511.84 757.24 512.19C759.55 512.45 761.86 512.65 764.17 512.65C766.10 512.65 768.03 511.76 769.95 511.03C772.26 510.15 774.57 508.00 776.88 507.56C777.92 507.37 778.96 507.39 780.00 507.27C782.47 506.99 784.94 506.16 787.41 506.04C790.71 505.87 794.01 505.79 797.30 505.79C801.42 505.79 805.54 506.04 809.66 506.04C813.78 506.04 817.90 506.04 822.02 506.04C824.90 506.04 827.78 505.95 830.67 505.79C832.32 505.70 833.96 505.11 835.61 504.31C837.67 503.30 839.73 501.30 841.79 499.86C843.85 498.42 845.91 496.56 847.97 495.66C849.62 494.93 851.26 494.68 852.91 494.42C854.97 494.09 857.03 494.20 859.09 493.93C861.56 493.59 864.03 492.85 866.51 492.44C868.98 492.03 871.45 491.66 873.92 491.45C875.57 491.32 877.22 491.21 878.86 491.21C880.51 491.21 882.16 492.32 883.81 493.18C885.87 494.26 887.93 496.13 889.99 497.39C891.63 498.39 893.28 499.78 894.93 500.10C896.58 500.43 898.22 500.60 899.87 500.60C901.93 500.60 903.99 499.84 906.05 499.36C908.52 498.79 910.99 497.88 913.47 497.39C915.94 496.89 918.41 496.64 920.88 496.40C923.35 496.15 925.82 496.15 928.29 495.90C930.77 495.66 933.24 495.20 935.71 494.91C938.18 494.63 940.65 494.42 943.12 494.17C944.77 494.01 946.42 494.01 948.07 493.68C950.13 493.27 952.19 491.17 954.25 489.97C956.31 488.78 958.37 487.33 960.43 486.51C962.48 485.69 964.54 486.02 966.60 485.03C967.84 484.43 969.08 482.82 970.31 480.83C971.96 478.17 973.61 473.21 975.25 469.70C976.90 466.20 978.55 462.37 980.20 459.82C981.85 457.26 983.49 455.26 985.14 454.38C986.38 453.72 987.61 453.39 988.85 453.39C990.50 453.39 992.14 454.48 993.79 455.37C995.85 456.49 997.91 458.31 999.97 459.82C1001.96 461.27 1003.94 463.09 1005.93 464.22C1007.91 465.35 1009.89 465.87 1011.86 466.60C1013.84 467.32 1015.82 467.92 1017.79 468.57C1019.77 469.23 1021.75 469.69 1023.72 470.55C1025.37 471.27 1027.02 473.12 1028.67 473.12C1029.99 473.12 1031.30 473.12 1032.62 473.12C1033.61 473.12 1034.60 471.44 1035.59 470.16C1036.25 469.30 1036.91 467.19 1037.56 467.19C1038.22 467.19 1038.88 472.13 1039.54 472.13C1040.20 472.13 1040.86 470.90 1041.52 470.16C1042.51 469.04 1043.50 466.20 1044.48 466.20C1045.47 466.20 1046.46 467.19 1047.45 467.19C1048.44 467.19 1049.43 464.62 1050.42 464.62C1051.40 464.62 1052.39 465.81 1053.38 465.81C1054.37 465.81 1055.36 465.47 1056.35 465.21C1057.01 465.04 1057.66 464.62 1058.32 464.62C1058.65 464.62 1058.98 467.85 1059.31 468.18C1059.97 468.84 1060.63 468.84 1061.29 469.17C1061.95 469.50 1062.61 469.83 1063.27 470.16C1063.93 470.49 1064.58 470.49 1065.24 471.14C1065.44 471.34 1065.64 475.10 1065.84 475.10C1066.03 475.10 1066.23 471.36 1066.43 471.14C1067.02 470.49 1067.62 470.16 1068.21 470.16C1068.87 470.16 1069.53 471.74 1070.19 471.74C1070.84 471.74 1071.50 470.55 1072.16 470.55C1072.82 470.55 1073.48 472.13 1074.14 472.13C1074.80 472.13 1075.46 471.47 1076.12 471.14C1076.78 470.82 1077.44 470.39 1078.09 470.16C1078.75 469.93 1079.41 469.76 1080.07 469.76C1080.73 469.76 1081.39 470.16 1082.05 470.55C1082.71 470.95 1083.37 472.13 1084.03 472.13C1084.68 472.13 1085.34 471.74 1086.00 471.74C1086.66 471.74 1087.32 472.46 1087.98 473.12C1088.64 473.78 1089.30 474.95 1089.96 475.69C1090.42 476.21 1090.88 477.08 1091.34 477.08C1091.87 477.08 1092.39 475.10 1092.92 475.10C1093.45 475.10 1093.98 475.61 1094.50 476.09C1094.97 476.50 1095.43 477.67 1095.89 477.67C1096.35 477.67 1096.81 475.07 1097.27 474.11C1097.80 473.02 1098.33 471.74 1098.85 471.74C1099.38 471.74 1099.91 472.13 1100.43 472.13C1100.90 472.13 1101.36 471.14 1101.82 471.14C1102.48 471.14 1103.14 471.82 1103.80 472.13C1104.53 472.48 1105.27 472.79 1106.00 473.12L1106.00 547 L71.00 547 Z" fill="url(#g3)" stroke="none"/>
<path d="M71.00 521.68C72.47 522.22 73.93 522.36 75.40 523.30C77.33 524.53 79.25 527.27 81.18 529.08C83.10 530.89 85.03 532.91 86.96 534.16C88.73 535.31 90.50 536.25 92.27 536.47C94.74 536.78 97.20 536.79 99.67 536.93C102.36 537.10 105.06 537.28 107.75 537.40C110.07 537.50 112.38 537.63 114.69 537.63C117.00 537.63 119.31 537.17 121.62 536.70C123.93 536.24 126.24 535.44 128.55 534.85C130.48 534.37 132.41 533.84 134.33 533.47C136.64 533.02 138.95 533.16 141.27 532.54C143.19 532.03 145.12 530.35 147.04 529.08C148.97 527.81 150.89 525.96 152.82 524.92C154.36 524.08 155.90 523.07 157.44 523.07C158.98 523.07 160.52 523.07 162.06 523.07C163.99 523.07 165.92 523.85 167.84 524.45C170.15 525.18 172.46 526.45 174.78 527.23C176.70 527.87 178.63 528.85 180.55 528.85C182.09 528.85 183.63 528.77 185.18 528.61C187.10 528.42 189.03 525.85 190.95 524.45C193.26 522.78 195.58 520.53 197.89 519.37C199.43 518.59 200.97 517.75 202.51 517.75C204.05 517.75 205.59 517.75 207.13 517.75C209.06 517.75 210.98 518.46 212.91 518.91C215.22 519.44 217.53 520.29 219.84 520.76C222.15 521.22 224.46 521.68 226.77 521.68C229.09 521.68 231.40 521.41 233.71 521.22C236.02 521.03 238.33 520.53 240.64 520.53C242.95 520.53 245.26 520.53 247.57 520.53C249.50 520.53 251.43 520.68 253.35 520.99C255.66 521.36 257.97 523.14 260.29 523.99C262.60 524.84 264.91 525.57 267.22 526.07C269.53 526.57 271.84 526.38 274.15 527.00C276.46 527.61 278.77 528.85 281.09 529.77C283.40 530.69 285.71 531.87 288.02 532.54C289.94 533.10 291.87 533.70 293.80 533.70C295.72 533.70 297.65 532.68 299.57 531.85C301.88 530.85 304.20 529.08 306.51 527.92C308.82 526.77 311.13 525.10 313.44 524.92C315.37 524.76 317.29 524.69 319.22 524.69C321.79 524.69 324.36 525.13 326.93 525.38C329.24 525.60 331.56 526.07 333.87 526.07C336.18 526.07 338.49 525.92 340.80 525.61C342.73 525.35 344.65 523.74 346.58 522.61C348.89 521.25 351.20 519.09 353.51 517.98C355.44 517.06 357.36 516.13 359.29 516.13C360.44 516.13 361.60 516.13 362.75 516.13C364.68 516.13 366.61 517.14 368.53 517.75C370.84 518.49 373.15 519.72 375.47 520.29C377.78 520.87 380.09 520.91 382.40 521.22C384.71 521.53 387.02 521.68 389.33 522.14C391.64 522.61 393.95 523.49 396.27 523.99C398.58 524.49 400.89 524.82 403.20 525.15C405.12 525.42 407.05 525.38 408.98 525.84C410.90 526.30 412.83 528.28 414.75 529.54C417.06 531.05 419.38 533.06 421.69 534.16C423.23 534.90 424.77 535.53 426.31 535.78C428.24 536.09 430.16 535.93 432.09 536.24C434.01 536.55 435.94 537.30 437.86 537.86C440.18 538.53 442.49 539.47 444.80 539.94C446.72 540.33 448.65 540.63 450.58 540.63C452.12 540.63 453.66 539.73 455.20 538.78C457.12 537.60 459.05 535.32 460.98 533.70C462.90 532.08 464.83 530.08 466.75 529.08C468.29 528.27 469.83 528.06 471.38 527.69C473.30 527.23 475.23 527.34 477.15 526.77C479.46 526.07 481.77 524.53 484.09 523.53C486.40 522.53 488.71 521.22 491.02 520.76C492.56 520.45 494.10 520.29 495.64 520.29C497.95 520.29 500.26 520.49 502.57 520.76C504.89 521.03 507.20 521.68 509.51 521.91C512.59 522.22 515.67 522.26 518.75 522.37C521.83 522.49 524.91 522.53 528.00 522.61C531.08 522.68 534.16 522.84 537.24 522.84C538.16 522.84 539.08 522.36 540.00 522.36C541.16 522.36 542.31 522.85 543.47 523.74C545.39 525.23 547.32 529.19 549.24 531.83C551.56 535.00 553.87 539.02 556.18 541.08C558.10 542.79 560.03 544.08 561.96 544.08C563.88 544.08 565.81 543.46 567.73 542.23C569.66 541.00 571.58 536.65 573.51 534.14C575.44 531.64 577.36 528.75 579.29 527.21C581.21 525.67 583.14 524.90 585.07 524.90C586.99 524.90 588.92 525.48 590.84 526.05C593.54 526.85 596.24 528.63 598.93 529.52C601.63 530.41 604.32 531.10 607.02 531.37C610.10 531.68 613.18 531.68 616.27 531.83C619.35 531.99 622.43 532.29 625.51 532.29C627.82 532.29 630.13 532.14 632.44 531.83C634.37 531.57 636.29 529.72 638.22 528.36C640.53 526.73 642.84 523.92 645.15 522.59C647.08 521.48 649.01 520.51 650.93 520.51C653.24 520.51 655.55 520.70 657.86 520.97C660.56 521.28 663.26 521.97 665.95 522.36C668.65 522.74 671.35 523.28 674.04 523.28C675.58 523.28 677.12 523.13 678.66 522.82C680.98 522.36 683.29 520.58 685.60 519.58C687.91 518.58 690.22 517.43 692.53 516.81C694.84 516.19 697.15 516.35 699.46 515.88C701.77 515.42 704.09 514.67 706.40 514.04C709.09 513.29 711.79 512.03 714.49 511.72C717.18 511.42 719.88 511.47 722.57 511.26C725.66 511.02 728.74 510.57 731.82 510.34C734.90 510.11 737.98 509.88 741.06 509.88C743.37 509.88 745.69 510.26 748.00 510.57C751.08 510.98 754.16 511.84 757.24 512.19C759.55 512.45 761.86 512.65 764.17 512.65C766.10 512.65 768.03 511.76 769.95 511.03C772.26 510.15 774.57 508.00 776.88 507.56C777.92 507.37 778.96 507.39 780.00 507.27C782.47 506.99 784.94 506.16 787.41 506.04C790.71 505.87 794.01 505.79 797.30 505.79C801.42 505.79 805.54 506.04 809.66 506.04C813.78 506.04 817.90 506.04 822.02 506.04C824.90 506.04 827.78 505.95 830.67 505.79C832.32 505.70 833.96 505.11 835.61 504.31C837.67 503.30 839.73 501.30 841.79 499.86C843.85 498.42 845.91 496.56 847.97 495.66C849.62 494.93 851.26 494.68 852.91 494.42C854.97 494.09 857.03 494.20 859.09 493.93C861.56 493.59 864.03 492.85 866.51 492.44C868.98 492.03 871.45 491.66 873.92 491.45C875.57 491.32 877.22 491.21 878.86 491.21C880.51 491.21 882.16 492.32 883.81 493.18C885.87 494.26 887.93 496.13 889.99 497.39C891.63 498.39 893.28 499.78 894.93 500.10C896.58 500.43 898.22 500.60 899.87 500.60C901.93 500.60 903.99 499.84 906.05 499.36C908.52 498.79 910.99 497.88 913.47 497.39C915.94 496.89 918.41 496.64 920.88 496.40C923.35 496.15 925.82 496.15 928.29 495.90C930.77 495.66 933.24 495.20 935.71 494.91C938.18 494.63 940.65 494.42 943.12 494.17C944.77 494.01 946.42 494.01 948.07 493.68C950.13 493.27 952.19 491.17 954.25 489.97C956.31 488.78 958.37 487.33 960.43 486.51C962.48 485.69 964.54 486.02 966.60 485.03C967.84 484.43 969.08 482.82 970.31 480.83C971.96 478.17 973.61 473.21 975.25 469.70C976.90 466.20 978.55 462.37 980.20 459.82C981.85 457.26 983.49 455.26 985.14 454.38C986.38 453.72 987.61 453.39 988.85 453.39C990.50 453.39 992.14 454.48 993.79 455.37C995.85 456.49 997.91 458.31 999.97 459.82C1001.96 461.27 1003.94 463.09 1005.93 464.22C1007.91 465.35 1009.89 465.87 1011.86 466.60C1013.84 467.32 1015.82 467.92 1017.79 468.57C1019.77 469.23 1021.75 469.69 1023.72 470.55C1025.37 471.27 1027.02 473.12 1028.67 473.12C1029.99 473.12 1031.30 473.12 1032.62 473.12C1033.61 473.12 1034.60 471.44 1035.59 470.16C1036.25 469.30 1036.91 467.19 1037.56 467.19C1038.22 467.19 1038.88 472.13 1039.54 472.13C1040.20 472.13 1040.86 470.90 1041.52 470.16C1042.51 469.04 1043.50 466.20 1044.48 466.20C1045.47 466.20 1046.46 467.19 1047.45 467.19C1048.44 467.19 1049.43 464.62 1050.42 464.62C1051.40 464.62 1052.39 465.81 1053.38 465.81C1054.37 465.81 1055.36 465.47 1056.35 465.21C1057.01 465.04 1057.66 464.62 1058.32 464.62C1058.65 464.62 1058.98 467.85 1059.31 468.18C1059.97 468.84 1060.63 468.84 1061.29 469.17C1061.95 469.50 1062.61 469.83 1063.27 470.16C1063.93 470.49 1064.58 470.49 1065.24 471.14C1065.44 471.34 1065.64 475.10 1065.84 475.10C1066.03 475.10 1066.23 471.36 1066.43 471.14C1067.02 470.49 1067.62 470.16 1068.21 470.16C1068.87 470.16 1069.53 471.74 1070.19 471.74C1070.84 471.74 1071.50 470.55 1072.16 470.55C1072.82 470.55 1073.48 472.13 1074.14 472.13C1074.80 472.13 1075.46 471.47 1076.12 471.14C1076.78 470.82 1077.44 470.39 1078.09 470.16C1078.75 469.93 1079.41 469.76 1080.07 469.76C1080.73 469.76 1081.39 470.16 1082.05 470.55C1082.71 470.95 1083.37 472.13 1084.03 472.13C1084.68 472.13 1085.34 471.74 1086.00 471.74C1086.66 471.74 1087.32 472.46 1087.98 473.12C1088.64 473.78 1089.30 474.95 1089.96 475.69C1090.42 476.21 1090.88 477.08 1091.34 477.08C1091.87 477.08 1092.39 475.10 1092.92 475.10C1093.45 475.10 1093.98 475.61 1094.50 476.09C1094.97 476.50 1095.43 477.67 1095.89 477.67C1096.35 477.67 1096.81 475.07 1097.27 474.11C1097.80 473.02 1098.33 471.74 1098.85 471.74C1099.38 471.74 1099.91 472.13 1100.43 472.13C1100.90 472.13 1101.36 471.14 1101.82 471.14C1102.48 471.14 1103.14 471.82 1103.80 472.13C1104.53 472.48 1105.27 472.79 1106.00 473.12" fill="none" stroke="#FF4560" stroke-width="1.1" stroke-linejoin="round" stroke-linecap="butt"/>
<path d="M71.00 531.85C72.85 532.31 74.70 532.60 76.56 533.24C78.87 534.04 81.18 535.58 83.49 536.47C85.41 537.22 87.34 537.94 89.27 538.32C90.81 538.63 92.35 538.78 93.89 538.78C95.81 538.78 97.74 537.84 99.67 537.17C101.98 536.36 104.29 534.92 106.60 534.16C108.53 533.53 110.45 533.14 112.38 532.77C114.69 532.33 117.00 532.47 119.31 531.85C121.62 531.23 123.93 530.00 126.24 529.08C128.55 528.15 130.87 526.98 133.18 526.30C135.87 525.51 138.57 525.84 141.27 524.92C143.19 524.26 145.12 522.41 147.04 520.99C148.97 519.56 150.89 517.64 152.82 516.37C154.36 515.35 155.90 513.82 157.44 513.82C158.60 513.82 159.75 513.82 160.91 513.82C162.84 513.82 164.76 515.32 166.69 516.37C169.00 517.62 171.31 519.78 173.62 520.99C175.55 521.99 177.47 523.19 179.40 523.30C182.09 523.45 184.79 523.53 187.49 523.53C190.57 523.53 193.65 523.53 196.73 523.53C199.81 523.53 202.89 523.45 205.98 523.30C208.29 523.18 210.60 522.76 212.91 522.37C215.22 521.99 217.53 521.33 219.84 520.99C222.15 520.64 224.46 520.49 226.77 520.29C229.09 520.10 231.40 520.02 233.71 519.83C236.02 519.64 238.33 519.25 240.64 519.14C243.72 518.98 246.80 518.91 249.89 518.91C252.97 518.91 256.05 519.37 259.13 519.60C262.21 519.83 265.29 520.29 268.37 520.29C270.69 520.29 273.00 520.29 275.31 520.29C278.39 520.29 281.47 519.60 284.55 519.37C287.63 519.14 290.71 519.21 293.80 518.91C296.11 518.68 298.42 518.45 300.73 517.98C303.04 517.52 305.35 516.67 307.66 516.13C309.59 515.69 311.51 514.98 313.44 514.98C314.98 514.98 316.52 515.06 318.06 515.21C320.25 515.43 322.44 517.21 324.62 518.68C326.55 519.97 328.47 522.07 330.40 523.30C332.33 524.53 334.25 525.61 336.18 526.07C338.10 526.53 340.03 526.30 341.96 526.77C343.88 527.23 345.81 529.73 347.73 531.39C350.04 533.38 352.35 536.37 354.67 537.86C356.59 539.10 358.52 540.17 360.44 540.17C362.37 540.17 364.30 539.76 366.22 539.25C368.53 538.62 370.84 537.24 373.15 536.47C375.47 535.70 377.78 534.97 380.09 534.62C383.17 534.16 386.25 534.14 389.33 533.93C393.18 533.67 397.04 533.46 400.89 533.24C403.58 533.08 406.28 533.08 408.98 532.77C410.90 532.55 412.83 530.54 414.75 529.08C416.68 527.61 418.61 525.23 420.53 523.99C422.07 523.00 423.61 521.91 425.15 521.91C426.69 521.91 428.24 521.91 429.78 521.91C431.70 521.91 433.63 523.38 435.55 524.45C437.48 525.53 439.41 527.34 441.33 528.38C443.26 529.42 445.18 530.31 447.11 530.69C449.42 531.16 451.73 531.04 454.04 531.39C456.35 531.73 458.66 532.31 460.98 532.77C463.29 533.24 465.60 533.93 467.91 534.16C470.99 534.47 474.07 534.51 477.15 534.62C480.23 534.74 483.32 534.78 486.40 534.85C489.48 534.93 492.56 534.93 495.64 535.09C497.95 535.20 500.26 535.62 502.57 536.01C504.89 536.39 507.20 537.05 509.51 537.40C511.82 537.74 514.13 537.90 516.44 538.09C518.75 538.28 521.06 538.32 523.37 538.55C525.69 538.78 528.00 539.21 530.31 539.48C532.62 539.75 534.93 539.98 537.24 540.17C538.16 540.25 539.08 540.38 540.00 540.38C543.08 540.38 546.16 539.77 549.24 539.46C553.10 539.07 556.95 538.90 560.80 538.30C563.88 537.82 566.96 537.26 570.04 536.45C573.13 535.64 576.21 534.18 579.29 533.45C582.37 532.72 585.45 532.72 588.53 532.06C591.61 531.41 594.70 530.15 597.78 529.52C600.47 528.97 603.17 528.52 605.87 528.36C608.56 528.21 611.26 528.13 613.95 528.13C617.04 528.13 620.12 528.13 623.20 528.13C626.28 528.13 629.36 528.06 632.44 527.90C634.75 527.79 637.06 525.59 639.38 524.20C641.69 522.82 644.00 520.61 646.31 519.58C647.85 518.89 649.39 518.54 650.93 518.20C652.47 517.85 654.01 517.95 655.55 517.50C657.86 516.83 660.18 515.23 662.49 514.04C664.80 512.84 667.11 511.15 669.42 510.34C671.35 509.66 673.27 509.76 675.20 509.18C677.12 508.60 679.05 507.85 680.98 506.87C683.29 505.70 685.60 503.75 687.91 502.48C690.22 501.21 692.53 499.95 694.84 499.25C696.38 498.77 697.92 498.94 699.46 498.32C701.00 497.70 702.55 495.34 704.09 493.70C706.40 491.23 708.71 487.74 711.02 485.61C712.95 483.83 714.87 481.84 716.80 481.45C718.34 481.14 719.88 480.99 721.42 480.99C723.34 480.99 725.27 483.15 727.20 484.45C729.51 486.02 731.82 488.50 734.13 489.77C736.44 491.04 738.75 492.08 741.06 492.08C743.37 492.08 745.69 491.52 748.00 490.93C751.08 490.14 754.16 488.28 757.24 487.46C759.94 486.74 762.63 487.00 765.33 486.07C766.48 485.68 767.64 484.01 768.80 482.14C770.34 479.66 771.88 475.18 773.42 471.74C775.34 467.45 777.27 461.89 779.20 459.03C780.70 456.80 782.20 455.78 783.71 454.87C784.94 454.13 786.18 453.64 787.41 453.64C789.06 453.64 790.71 455.47 792.36 456.85C794.42 458.58 796.48 461.38 798.54 463.53C800.60 465.67 802.66 468.47 804.72 469.70C806.36 470.69 808.01 471.19 809.66 471.19C811.72 471.19 813.78 470.13 815.84 469.21C818.31 468.10 820.78 465.97 823.25 464.76C825.31 463.75 827.37 462.87 829.43 462.29C831.49 461.71 833.55 461.96 835.61 461.30C838.08 460.51 840.55 458.59 843.03 457.35C845.08 456.31 847.14 454.99 849.20 454.38C850.85 453.89 852.50 453.64 854.15 453.64C856.21 453.64 858.27 454.28 860.33 454.87C862.80 455.59 865.27 457.07 867.74 457.84C869.80 458.48 871.86 458.96 873.92 459.32C876.39 459.76 878.86 459.74 881.33 460.07C883.81 460.39 886.28 460.93 888.75 461.30C891.22 461.67 893.69 462.29 896.16 462.29C897.81 462.29 899.46 462.29 901.11 462.29C903.17 462.29 905.23 460.74 907.29 459.82C909.76 458.72 912.23 456.94 914.70 456.11C916.76 455.42 918.82 455.37 920.88 454.87C922.94 454.38 925.00 454.17 927.06 453.14C929.12 452.11 931.18 450.18 933.24 448.70C935.30 447.21 937.36 445.07 939.42 444.25C941.48 443.42 943.54 443.83 945.60 443.01C946.83 442.52 948.07 441.80 949.30 440.05C950.95 437.70 952.60 432.84 954.25 428.92C955.89 425.01 957.54 419.45 959.19 416.57C960.84 413.68 962.48 411.62 964.13 411.62C965.37 411.62 966.60 411.62 967.84 411.62C969.90 411.62 971.96 413.43 974.02 414.59C976.08 415.74 978.14 417.44 980.20 418.54C981.85 419.42 983.49 420.26 985.14 420.77C986.38 421.15 987.61 421.01 988.85 421.51C990.08 422.00 991.32 424.05 992.56 426.45C994.20 429.65 995.85 436.59 997.50 440.05C998.33 441.79 999.17 442.77 1000.00 444.45C1000.99 446.45 1001.98 449.40 1002.97 451.37C1003.95 453.35 1004.94 454.99 1005.93 456.32C1007.25 458.08 1008.57 458.86 1009.89 459.88C1010.87 460.63 1011.86 461.85 1012.85 461.85C1013.51 461.85 1014.17 459.88 1014.83 459.88C1015.68 459.88 1016.54 460.01 1017.40 460.27C1017.86 460.41 1018.32 463.83 1018.78 463.83C1019.44 463.83 1020.10 462.91 1020.76 462.64C1021.42 462.38 1022.08 462.51 1022.74 462.25C1023.40 461.98 1024.05 460.23 1024.71 459.28C1025.04 458.81 1025.37 457.90 1025.70 457.90C1026.36 457.90 1027.02 461.26 1027.68 461.26C1028.34 461.26 1029.00 459.88 1029.66 459.88C1030.32 459.88 1030.97 460.04 1031.63 460.27C1032.29 460.50 1032.95 461.26 1033.61 461.26C1034.14 461.26 1034.66 456.77 1035.19 455.33C1035.65 454.06 1036.11 452.76 1036.58 452.76C1037.04 452.76 1037.50 452.76 1037.96 452.76C1038.49 452.76 1039.01 454.67 1039.54 455.92C1040.07 457.17 1040.60 459.11 1041.12 460.27C1041.58 461.28 1042.05 462.05 1042.51 462.64C1042.97 463.24 1043.43 463.83 1043.89 463.83C1044.42 463.83 1044.95 462.25 1045.47 462.25C1045.87 462.25 1046.26 463.34 1046.66 465.21C1046.92 466.47 1047.19 470.16 1047.45 470.16C1047.98 470.16 1048.50 470.02 1049.03 469.76C1049.49 469.53 1049.95 464.49 1050.42 464.22C1050.88 463.96 1051.34 463.83 1051.80 463.83C1052.19 463.83 1052.59 467.61 1052.99 468.18C1053.45 468.84 1053.91 469.17 1054.37 469.17C1054.90 469.17 1055.42 466.20 1055.95 466.20C1056.41 466.20 1056.87 466.53 1057.33 467.19C1057.73 467.76 1058.13 469.42 1058.52 470.16C1058.98 471.02 1059.44 471.24 1059.91 471.74C1060.37 472.23 1060.83 472.61 1061.29 473.12C1061.82 473.71 1062.34 474.67 1062.87 475.10C1063.33 475.47 1063.79 475.50 1064.25 475.69C1064.58 475.83 1064.91 475.82 1065.24 476.09C1065.37 476.19 1065.51 482.02 1065.64 482.02C1065.84 482.02 1066.03 476.71 1066.23 476.48C1066.69 475.96 1067.15 475.91 1067.62 475.69C1068.14 475.44 1068.67 475.49 1069.20 475.10C1069.72 474.70 1070.25 473.12 1070.78 473.12C1071.24 473.12 1071.70 473.45 1072.16 474.11C1072.62 474.77 1073.09 476.28 1073.55 477.08C1074.07 477.99 1074.60 478.56 1075.13 479.05C1075.66 479.55 1076.18 480.04 1076.71 480.04C1077.24 480.04 1077.76 479.65 1078.29 479.65C1078.82 479.65 1079.35 481.03 1079.87 481.03C1080.40 481.03 1080.93 480.04 1081.46 480.04C1081.98 480.04 1082.51 481.52 1083.04 482.02C1083.56 482.51 1084.09 482.35 1084.62 483.01C1085.15 483.67 1085.67 486.30 1086.20 486.96C1086.73 487.62 1087.25 487.29 1087.78 487.95C1088.31 488.61 1088.84 489.99 1089.36 490.92C1089.76 491.61 1090.15 492.89 1090.55 492.89C1091.01 492.89 1091.47 490.68 1091.93 489.93C1092.39 489.17 1092.86 488.34 1093.32 488.34C1093.84 488.34 1094.37 489.93 1094.90 489.93C1095.43 489.93 1095.95 489.53 1096.48 489.53C1096.94 489.53 1097.40 490.45 1097.86 490.92C1098.33 491.38 1098.79 492.30 1099.25 492.30C1099.78 492.30 1100.30 489.60 1100.83 488.94C1101.36 488.28 1101.88 487.95 1102.41 487.95C1102.87 487.95 1103.33 490.68 1103.80 491.51C1104.53 492.83 1105.27 492.83 1106.00 493.49L1106.00 547 L71.00 547 Z" fill="url(#g4)" stroke="none"/>
<path d="M71.00 531.85C72.85 532.31 74.70 532.60 76.56 533.24C78.87 534.04 81.18 535.58 83.49 536.47C85.41 537.22 87.34 537.94 89.27 538.32C90.81 538.63 92.35 538.78 93.89 538.78C95.81 538.78 97.74 537.84 99.67 537.17C101.98 536.36 104.29 534.92 106.60 534.16C108.53 533.53 110.45 533.14 112.38 532.77C114.69 532.33 117.00 532.47 119.31 531.85C121.62 531.23 123.93 530.00 126.24 529.08C128.55 528.15 130.87 526.98 133.18 526.30C135.87 525.51 138.57 525.84 141.27 524.92C143.19 524.26 145.12 522.41 147.04 520.99C148.97 519.56 150.89 517.64 152.82 516.37C154.36 515.35 155.90 513.82 157.44 513.82C158.60 513.82 159.75 513.82 160.91 513.82C162.84 513.82 164.76 515.32 166.69 516.37C169.00 517.62 171.31 519.78 173.62 520.99C175.55 521.99 177.47 523.19 179.40 523.30C182.09 523.45 184.79 523.53 187.49 523.53C190.57 523.53 193.65 523.53 196.73 523.53C199.81 523.53 202.89 523.45 205.98 523.30C208.29 523.18 210.60 522.76 212.91 522.37C215.22 521.99 217.53 521.33 219.84 520.99C222.15 520.64 224.46 520.49 226.77 520.29C229.09 520.10 231.40 520.02 233.71 519.83C236.02 519.64 238.33 519.25 240.64 519.14C243.72 518.98 246.80 518.91 249.89 518.91C252.97 518.91 256.05 519.37 259.13 519.60C262.21 519.83 265.29 520.29 268.37 520.29C270.69 520.29 273.00 520.29 275.31 520.29C278.39 520.29 281.47 519.60 284.55 519.37C287.63 519.14 290.71 519.21 293.80 518.91C296.11 518.68 298.42 518.45 300.73 517.98C303.04 517.52 305.35 516.67 307.66 516.13C309.59 515.69 311.51 514.98 313.44 514.98C314.98 514.98 316.52 515.06 318.06 515.21C320.25 515.43 322.44 517.21 324.62 518.68C326.55 519.97 328.47 522.07 330.40 523.30C332.33 524.53 334.25 525.61 336.18 526.07C338.10 526.53 340.03 526.30 341.96 526.77C343.88 527.23 345.81 529.73 347.73 531.39C350.04 533.38 352.35 536.37 354.67 537.86C356.59 539.10 358.52 540.17 360.44 540.17C362.37 540.17 364.30 539.76 366.22 539.25C368.53 538.62 370.84 537.24 373.15 536.47C375.47 535.70 377.78 534.97 380.09 534.62C383.17 534.16 386.25 534.14 389.33 533.93C393.18 533.67 397.04 533.46 400.89 533.24C403.58 533.08 406.28 533.08 408.98 532.77C410.90 532.55 412.83 530.54 414.75 529.08C416.68 527.61 418.61 525.23 420.53 523.99C422.07 523.00 423.61 521.91 425.15 521.91C426.69 521.91 428.24 521.91 429.78 521.91C431.70 521.91 433.63 523.38 435.55 524.45C437.48 525.53 439.41 527.34 441.33 528.38C443.26 529.42 445.18 530.31 447.11 530.69C449.42 531.16 451.73 531.04 454.04 531.39C456.35 531.73 458.66 532.31 460.98 532.77C463.29 533.24 465.60 533.93 467.91 534.16C470.99 534.47 474.07 534.51 477.15 534.62C480.23 534.74 483.32 534.78 486.40 534.85C489.48 534.93 492.56 534.93 495.64 535.09C497.95 535.20 500.26 535.62 502.57 536.01C504.89 536.39 507.20 537.05 509.51 537.40C511.82 537.74 514.13 537.90 516.44 538.09C518.75 538.28 521.06 538.32 523.37 538.55C525.69 538.78 528.00 539.21 530.31 539.48C532.62 539.75 534.93 539.98 537.24 540.17C538.16 540.25 539.08 540.38 540.00 540.38C543.08 540.38 546.16 539.77 549.24 539.46C553.10 539.07 556.95 538.90 560.80 538.30C563.88 537.82 566.96 537.26 570.04 536.45C573.13 535.64 576.21 534.18 579.29 533.45C582.37 532.72 585.45 532.72 588.53 532.06C591.61 531.41 594.70 530.15 597.78 529.52C600.47 528.97 603.17 528.52 605.87 528.36C608.56 528.21 611.26 528.13 613.95 528.13C617.04 528.13 620.12 528.13 623.20 528.13C626.28 528.13 629.36 528.06 632.44 527.90C634.75 527.79 637.06 525.59 639.38 524.20C641.69 522.82 644.00 520.61 646.31 519.58C647.85 518.89 649.39 518.54 650.93 518.20C652.47 517.85 654.01 517.95 655.55 517.50C657.86 516.83 660.18 515.23 662.49 514.04C664.80 512.84 667.11 511.15 669.42 510.34C671.35 509.66 673.27 509.76 675.20 509.18C677.12 508.60 679.05 507.85 680.98 506.87C683.29 505.70 685.60 503.75 687.91 502.48C690.22 501.21 692.53 499.95 694.84 499.25C696.38 498.77 697.92 498.94 699.46 498.32C701.00 497.70 702.55 495.34 704.09 493.70C706.40 491.23 708.71 487.74 711.02 485.61C712.95 483.83 714.87 481.84 716.80 481.45C718.34 481.14 719.88 480.99 721.42 480.99C723.34 480.99 725.27 483.15 727.20 484.45C729.51 486.02 731.82 488.50 734.13 489.77C736.44 491.04 738.75 492.08 741.06 492.08C743.37 492.08 745.69 491.52 748.00 490.93C751.08 490.14 754.16 488.28 757.24 487.46C759.94 486.74 762.63 487.00 765.33 486.07C766.48 485.68 767.64 484.01 768.80 482.14C770.34 479.66 771.88 475.18 773.42 471.74C775.34 467.45 777.27 461.89 779.20 459.03C780.70 456.80 782.20 455.78 783.71 454.87C784.94 454.13 786.18 453.64 787.41 453.64C789.06 453.64 790.71 455.47 792.36 456.85C794.42 458.58 796.48 461.38 798.54 463.53C800.60 465.67 802.66 468.47 804.72 469.70C806.36 470.69 808.01 471.19 809.66 471.19C811.72 471.19 813.78 470.13 815.84 469.21C818.31 468.10 820.78 465.97 823.25 464.76C825.31 463.75 827.37 462.87 829.43 462.29C831.49 461.71 833.55 461.96 835.61 461.30C838.08 460.51 840.55 458.59 843.03 457.35C845.08 456.31 847.14 454.99 849.20 454.38C850.85 453.89 852.50 453.64 854.15 453.64C856.21 453.64 858.27 454.28 860.33 454.87C862.80 455.59 865.27 457.07 867.74 457.84C869.80 458.48 871.86 458.96 873.92 459.32C876.39 459.76 878.86 459.74 881.33 460.07C883.81 460.39 886.28 460.93 888.75 461.30C891.22 461.67 893.69 462.29 896.16 462.29C897.81 462.29 899.46 462.29 901.11 462.29C903.17 462.29 905.23 460.74 907.29 459.82C909.76 458.72 912.23 456.94 914.70 456.11C916.76 455.42 918.82 455.37 920.88 454.87C922.94 454.38 925.00 454.17 927.06 453.14C929.12 452.11 931.18 450.18 933.24 448.70C935.30 447.21 937.36 445.07 939.42 444.25C941.48 443.42 943.54 443.83 945.60 443.01C946.83 442.52 948.07 441.80 949.30 440.05C950.95 437.70 952.60 432.84 954.25 428.92C955.89 425.01 957.54 419.45 959.19 416.57C960.84 413.68 962.48 411.62 964.13 411.62C965.37 411.62 966.60 411.62 967.84 411.62C969.90 411.62 971.96 413.43 974.02 414.59C976.08 415.74 978.14 417.44 980.20 418.54C981.85 419.42 983.49 420.26 985.14 420.77C986.38 421.15 987.61 421.01 988.85 421.51C990.08 422.00 991.32 424.05 992.56 426.45C994.20 429.65 995.85 436.59 997.50 440.05C998.33 441.79 999.17 442.77 1000.00 444.45C1000.99 446.45 1001.98 449.40 1002.97 451.37C1003.95 453.35 1004.94 454.99 1005.93 456.32C1007.25 458.08 1008.57 458.86 1009.89 459.88C1010.87 460.63 1011.86 461.85 1012.85 461.85C1013.51 461.85 1014.17 459.88 1014.83 459.88C1015.68 459.88 1016.54 460.01 1017.40 460.27C1017.86 460.41 1018.32 463.83 1018.78 463.83C1019.44 463.83 1020.10 462.91 1020.76 462.64C1021.42 462.38 1022.08 462.51 1022.74 462.25C1023.40 461.98 1024.05 460.23 1024.71 459.28C1025.04 458.81 1025.37 457.90 1025.70 457.90C1026.36 457.90 1027.02 461.26 1027.68 461.26C1028.34 461.26 1029.00 459.88 1029.66 459.88C1030.32 459.88 1030.97 460.04 1031.63 460.27C1032.29 460.50 1032.95 461.26 1033.61 461.26C1034.14 461.26 1034.66 456.77 1035.19 455.33C1035.65 454.06 1036.11 452.76 1036.58 452.76C1037.04 452.76 1037.50 452.76 1037.96 452.76C1038.49 452.76 1039.01 454.67 1039.54 455.92C1040.07 457.17 1040.60 459.11 1041.12 460.27C1041.58 461.28 1042.05 462.05 1042.51 462.64C1042.97 463.24 1043.43 463.83 1043.89 463.83C1044.42 463.83 1044.95 462.25 1045.47 462.25C1045.87 462.25 1046.26 463.34 1046.66 465.21C1046.92 466.47 1047.19 470.16 1047.45 470.16C1047.98 470.16 1048.50 470.02 1049.03 469.76C1049.49 469.53 1049.95 464.49 1050.42 464.22C1050.88 463.96 1051.34 463.83 1051.80 463.83C1052.19 463.83 1052.59 467.61 1052.99 468.18C1053.45 468.84 1053.91 469.17 1054.37 469.17C1054.90 469.17 1055.42 466.20 1055.95 466.20C1056.41 466.20 1056.87 466.53 1057.33 467.19C1057.73 467.76 1058.13 469.42 1058.52 470.16C1058.98 471.02 1059.44 471.24 1059.91 471.74C1060.37 472.23 1060.83 472.61 1061.29 473.12C1061.82 473.71 1062.34 474.67 1062.87 475.10C1063.33 475.47 1063.79 475.50 1064.25 475.69C1064.58 475.83 1064.91 475.82 1065.24 476.09C1065.37 476.19 1065.51 482.02 1065.64 482.02C1065.84 482.02 1066.03 476.71 1066.23 476.48C1066.69 475.96 1067.15 475.91 1067.62 475.69C1068.14 475.44 1068.67 475.49 1069.20 475.10C1069.72 474.70 1070.25 473.12 1070.78 473.12C1071.24 473.12 1071.70 473.45 1072.16 474.11C1072.62 474.77 1073.09 476.28 1073.55 477.08C1074.07 477.99 1074.60 478.56 1075.13 479.05C1075.66 479.55 1076.18 480.04 1076.71 480.04C1077.24 480.04 1077.76 479.65 1078.29 479.65C1078.82 479.65 1079.35 481.03 1079.87 481.03C1080.40 481.03 1080.93 480.04 1081.46 480.04C1081.98 480.04 1082.51 481.52 1083.04 482.02C1083.56 482.51 1084.09 482.35 1084.62 483.01C1085.15 483.67 1085.67 486.30 1086.20 486.96C1086.73 487.62 1087.25 487.29 1087.78 487.95C1088.31 488.61 1088.84 489.99 1089.36 490.92C1089.76 491.61 1090.15 492.89 1090.55 492.89C1091.01 492.89 1091.47 490.68 1091.93 489.93C1092.39 489.17 1092.86 488.34 1093.32 488.34C1093.84 488.34 1094.37 489.93 1094.90 489.93C1095.43 489.93 1095.95 489.53 1096.48 489.53C1096.94 489.53 1097.40 490.45 1097.86 490.92C1098.33 491.38 1098.79 492.30 1099.25 492.30C1099.78 492.30 1100.30 489.60 1100.83 488.94C1101.36 488.28 1101.88 487.95 1102.41 487.95C1102.87 487.95 1103.33 490.68 1103.80 491.51C1104.53 492.83 1105.27 492.83 1106.00 493.49" fill="none" stroke="#775DD0" stroke-width="1.1" stroke-linejoin="round" stroke-linecap="butt"/>
<path d="M71.00 519.60C72.47 520.06 73.93 520.29 75.40 520.99C77.33 521.90 79.25 523.57 81.18 524.92C83.10 526.26 85.03 528.15 86.96 529.08C88.88 530.00 90.81 530.46 92.73 530.46C94.66 530.46 96.58 529.17 98.51 527.92C100.82 526.42 103.13 523.41 105.44 521.68C107.75 519.95 110.07 518.29 112.38 517.52C114.69 516.75 117.00 517.06 119.31 516.37C121.62 515.67 123.93 514.32 126.24 513.36C128.55 512.40 130.87 511.21 133.18 510.59C135.10 510.07 137.03 510.28 138.95 509.66C140.49 509.17 142.04 506.14 143.58 503.65C145.50 500.55 147.43 495.42 149.35 492.10C150.89 489.45 152.44 486.74 153.98 485.17C155.13 483.98 156.29 483.01 157.44 482.85C158.60 482.70 159.75 482.62 160.91 482.62C162.84 482.62 164.76 483.78 166.69 484.70C168.61 485.63 170.54 487.13 172.46 488.17C174.39 489.21 176.32 490.33 178.24 490.94C180.17 491.56 182.09 491.25 184.02 491.87C186.33 492.61 188.64 494.29 190.95 495.57C193.26 496.84 195.58 498.65 197.89 499.49C199.81 500.20 201.74 500.65 203.66 500.65C205.98 500.65 208.29 500.07 210.60 499.49C212.91 498.92 215.22 497.80 217.53 497.18C219.84 496.57 222.15 495.80 224.46 495.80C226.77 495.80 229.09 495.80 231.40 495.80C234.48 495.80 237.56 496.49 240.64 496.72C243.72 496.95 246.80 496.99 249.89 497.18C252.97 497.38 256.05 497.65 259.13 497.88C262.21 498.11 265.29 498.33 268.37 498.57C270.30 498.72 272.23 498.72 274.15 499.03C276.08 499.34 278.00 501.34 279.93 502.50C282.24 503.89 284.55 505.57 286.86 506.66C288.79 507.56 290.71 508.74 292.64 508.74C295.34 508.74 298.03 508.74 300.73 508.74C303.81 508.74 306.89 508.51 309.97 508.51C312.28 508.51 314.60 508.58 316.91 508.74C317.94 508.81 318.97 509.09 320.00 509.43C321.54 509.95 323.08 510.69 324.62 511.74C326.55 513.07 328.47 515.63 330.40 517.06C332.33 518.48 334.25 519.72 336.18 520.29C337.72 520.76 339.26 520.53 340.80 520.99C342.73 521.57 344.65 523.24 346.58 524.45C348.89 525.91 351.20 527.96 353.51 529.08C355.82 530.19 358.13 531.16 360.44 531.16C362.37 531.16 364.30 530.27 366.22 529.08C368.15 527.88 370.07 525.73 372.00 523.99C373.92 522.26 375.85 519.84 377.78 518.68C379.32 517.75 380.86 517.06 382.40 517.06C385.48 517.06 388.56 517.06 391.64 517.06C394.72 517.06 397.81 517.29 400.89 517.29C403.58 517.29 406.28 517.21 408.98 517.06C410.90 516.95 412.83 514.62 414.75 513.36C417.06 511.85 419.38 509.70 421.69 508.74C423.23 508.10 424.77 507.58 426.31 507.58C427.85 507.58 429.39 507.93 430.93 508.28C433.24 508.79 435.55 509.89 437.86 510.59C440.18 511.28 442.49 512.13 444.80 512.44C447.11 512.74 449.42 512.90 451.73 512.90C454.04 512.90 456.35 512.01 458.66 511.51C460.98 511.01 463.29 510.32 465.60 509.89C467.91 509.47 470.22 509.09 472.53 508.97C475.61 508.82 478.69 508.85 481.77 508.74C484.86 508.62 487.94 508.47 491.02 508.28C494.10 508.08 497.18 507.97 500.26 507.58C503.34 507.20 506.43 506.35 509.51 505.97C512.59 505.58 515.67 505.58 518.75 505.27C521.83 504.96 524.91 504.46 528.00 504.12C531.08 503.77 534.16 503.48 537.24 503.19C538.16 503.11 539.08 502.94 540.00 502.94C543.85 502.94 547.70 503.60 551.56 503.87C555.41 504.14 559.26 504.56 563.11 504.56C564.65 504.56 566.19 503.26 567.73 501.79C569.66 499.95 571.58 496.28 573.51 493.70C575.44 491.12 577.36 487.69 579.29 486.30C581.21 484.92 583.14 484.22 585.07 484.22C586.99 484.22 588.92 484.92 590.84 485.61C593.15 486.44 595.47 488.11 597.78 489.08C600.09 490.04 602.40 491.27 604.71 491.39C607.79 491.54 610.87 491.62 613.95 491.62C617.04 491.62 620.12 491.62 623.20 491.62C626.28 491.62 629.36 491.54 632.44 491.39C634.37 491.29 636.29 488.50 638.22 486.77C640.15 485.03 642.07 482.49 644.00 480.99C645.92 479.49 647.85 478.21 649.78 477.75C651.70 477.29 653.63 477.52 655.55 477.06C657.86 476.50 660.18 474.94 662.49 474.05C664.80 473.17 667.11 472.24 669.42 471.74C671.35 471.33 673.27 471.05 675.20 471.05C676.35 471.05 677.51 471.98 678.66 473.36C680.20 475.20 681.75 479.37 683.29 482.14C685.21 485.61 687.14 489.46 689.06 491.85C690.99 494.24 692.92 496.22 694.84 496.47C697.15 496.78 699.46 496.93 701.77 496.93C704.86 496.93 707.94 496.70 711.02 496.70C714.10 496.70 717.18 496.78 720.26 496.93C723.34 497.09 726.43 497.42 729.51 497.63C733.36 497.89 737.21 498.32 741.06 498.32C744.14 498.32 747.23 497.78 750.31 497.40C753.39 497.01 756.47 496.38 759.55 496.01C761.86 495.73 764.17 495.78 766.48 495.32C768.03 495.01 769.57 492.99 771.11 491.39C773.03 489.38 774.96 486.13 776.88 483.99C777.92 482.84 778.96 481.52 780.00 480.83C781.24 480.00 782.47 479.76 783.71 479.59C784.94 479.43 786.18 479.34 787.41 479.34C788.65 479.34 789.89 480.43 791.12 481.57C792.77 483.09 794.42 486.13 796.07 488.24C798.12 490.88 800.18 493.99 802.24 495.66C803.89 496.99 805.54 497.80 807.19 498.13C809.66 498.62 812.13 498.61 814.60 498.87C817.49 499.18 820.37 499.67 823.25 499.86C825.72 500.02 828.20 500.10 830.67 500.10C832.32 500.10 833.96 499.68 835.61 498.87C837.67 497.85 839.73 495.57 841.79 493.93C843.85 492.28 845.91 490.17 847.97 488.98C849.62 488.03 851.26 487.14 852.91 487.01C854.97 486.84 857.03 486.87 859.09 486.76C861.56 486.63 864.03 486.39 866.51 486.26C869.39 486.12 872.27 486.02 875.16 486.02C877.22 486.02 879.28 486.37 881.33 486.76C883.81 487.22 886.28 488.11 888.75 488.74C890.81 489.25 892.87 489.88 894.93 490.22C896.58 490.49 898.22 490.71 899.87 490.71C901.52 490.71 903.17 489.43 904.81 488.24C906.87 486.75 908.93 484.00 910.99 482.06C913.05 480.13 915.11 477.89 917.17 476.62C918.82 475.61 920.47 475.13 922.12 474.65C924.18 474.04 926.23 474.28 928.29 473.66C930.35 473.04 932.41 471.80 934.47 470.94C936.53 470.07 938.59 469.12 940.65 468.47C942.30 467.95 943.95 468.06 945.60 467.23C946.83 466.61 948.07 465.69 949.30 463.53C950.95 460.64 952.60 454.26 954.25 449.93C955.89 445.61 957.54 440.47 959.19 437.57C960.43 435.40 961.66 433.74 962.90 433.12C964.54 432.30 966.19 432.53 967.84 431.89C969.90 431.09 971.96 429.54 974.02 428.43C976.08 427.32 978.14 426.09 980.20 425.22C981.85 424.51 983.49 423.49 985.14 423.49C986.38 423.49 987.61 423.49 988.85 423.49C990.08 423.49 991.32 425.43 992.56 427.69C994.20 430.70 995.85 437.51 997.50 441.28C998.33 443.19 999.17 444.61 1000.00 446.43C1000.99 448.59 1001.98 451.37 1002.97 453.35C1003.95 455.33 1004.94 457.31 1005.93 458.29C1007.25 459.61 1008.57 458.98 1009.89 460.27C1010.87 461.24 1011.86 463.40 1012.85 464.22C1013.51 464.77 1014.17 465.21 1014.83 465.21C1015.49 465.21 1016.15 463.83 1016.81 463.83C1017.46 463.83 1018.12 465.81 1018.78 465.81C1019.44 465.81 1020.10 465.48 1020.76 465.21C1021.42 464.95 1022.08 464.55 1022.74 464.22C1023.40 463.90 1024.05 463.63 1024.71 463.24C1025.37 462.84 1026.03 461.85 1026.69 461.85C1027.35 461.85 1028.01 463.24 1028.67 463.24C1029.33 463.24 1029.99 462.25 1030.64 462.25C1031.30 462.25 1031.96 462.64 1032.62 462.64C1033.28 462.64 1033.94 461.26 1034.60 461.26C1035.26 461.26 1035.92 461.62 1036.58 461.85C1037.23 462.08 1037.89 462.12 1038.55 462.64C1039.21 463.17 1039.87 464.62 1040.53 465.21C1041.19 465.81 1041.85 465.54 1042.51 466.20C1042.97 466.66 1043.43 469.24 1043.89 470.16C1044.42 471.21 1044.95 471.74 1045.47 471.74C1046.00 471.74 1046.53 470.16 1047.05 470.16C1047.52 470.16 1047.98 472.17 1048.44 473.12C1048.77 473.80 1049.10 475.10 1049.43 475.10C1049.95 475.10 1050.48 472.80 1051.01 472.13C1051.47 471.55 1051.93 471.14 1052.39 471.14C1052.85 471.14 1053.31 471.44 1053.78 471.74C1054.30 472.07 1054.83 472.73 1055.36 473.12C1055.89 473.52 1056.41 473.63 1056.94 474.11C1057.40 474.53 1057.86 475.20 1058.32 475.69C1058.78 476.19 1059.25 476.70 1059.71 477.08C1060.23 477.51 1060.76 477.57 1061.29 478.06C1061.82 478.56 1062.34 479.01 1062.87 480.04C1063.27 480.82 1063.66 481.72 1064.06 483.01C1064.32 483.86 1064.58 484.00 1064.85 485.97C1065.05 487.46 1065.24 505.35 1065.44 505.35C1065.64 505.35 1065.84 487.62 1066.03 486.96C1066.43 485.64 1066.82 485.97 1067.22 484.98C1067.62 484.00 1068.01 481.29 1068.41 481.03C1069.00 480.63 1069.59 480.44 1070.19 480.44C1070.84 480.44 1071.50 480.63 1072.16 481.03C1072.62 481.31 1073.09 482.47 1073.55 483.01C1074.07 483.62 1074.60 484.06 1075.13 484.39C1075.66 484.72 1076.18 484.59 1076.71 484.98C1077.24 485.38 1077.76 487.03 1078.29 487.55C1078.82 488.08 1079.35 488.34 1079.87 488.34C1080.40 488.34 1080.93 487.95 1081.46 487.95C1081.98 487.95 1082.51 488.54 1083.04 488.54C1083.56 488.54 1084.09 487.95 1084.62 487.95C1085.15 487.95 1085.67 488.44 1086.20 488.94C1086.73 489.43 1087.25 490.03 1087.78 490.92C1088.31 491.80 1088.84 493.52 1089.36 494.28C1089.89 495.03 1090.42 495.20 1090.95 495.46C1091.47 495.73 1092.00 495.86 1092.53 495.86C1093.05 495.86 1093.58 495.46 1094.11 495.46C1094.64 495.46 1095.16 496.45 1095.69 496.45C1096.09 496.45 1096.48 496.39 1096.88 496.25C1097.40 496.08 1097.93 494.14 1098.46 493.49C1098.99 492.83 1099.51 492.30 1100.04 492.30C1100.57 492.30 1101.09 493.49 1101.62 493.49C1102.15 493.49 1102.68 492.89 1103.20 492.89C1103.73 492.89 1104.26 493.30 1104.78 493.49C1105.19 493.63 1105.59 493.75 1106.00 493.88L1106.00 547 L71.00 547 Z" fill="url(#g5)" stroke="none"/>
<path d="M71.00 519.60C72.47 520.06 73.93 520.29 75.40 520.99C77.33 521.90 79.25 523.57 81.18 524.92C83.10 526.26 85.03 528.15 86.96 529.08C88.88 530.00 90.81 530.46 92.73 530.46C94.66 530.46 96.58 529.17 98.51 527.92C100.82 526.42 103.13 523.41 105.44 521.68C107.75 519.95 110.07 518.29 112.38 517.52C114.69 516.75 117.00 517.06 119.31 516.37C121.62 515.67 123.93 514.32 126.24 513.36C128.55 512.40 130.87 511.21 133.18 510.59C135.10 510.07 137.03 510.28 138.95 509.66C140.49 509.17 142.04 506.14 143.58 503.65C145.50 500.55 147.43 495.42 149.35 492.10C150.89 489.45 152.44 486.74 153.98 485.17C155.13 483.98 156.29 483.01 157.44 482.85C158.60 482.70 159.75 482.62 160.91 482.62C162.84 482.62 164.76 483.78 166.69 484.70C168.61 485.63 170.54 487.13 172.46 488.17C174.39 489.21 176.32 490.33 178.24 490.94C180.17 491.56 182.09 491.25 184.02 491.87C186.33 492.61 188.64 494.29 190.95 495.57C193.26 496.84 195.58 498.65 197.89 499.49C199.81 500.20 201.74 500.65 203.66 500.65C205.98 500.65 208.29 500.07 210.60 499.49C212.91 498.92 215.22 497.80 217.53 497.18C219.84 496.57 222.15 495.80 224.46 495.80C226.77 495.80 229.09 495.80 231.40 495.80C234.48 495.80 237.56 496.49 240.64 496.72C243.72 496.95 246.80 496.99 249.89 497.18C252.97 497.38 256.05 497.65 259.13 497.88C262.21 498.11 265.29 498.33 268.37 498.57C270.30 498.72 272.23 498.72 274.15 499.03C276.08 499.34 278.00 501.34 279.93 502.50C282.24 503.89 284.55 505.57 286.86 506.66C288.79 507.56 290.71 508.74 292.64 508.74C295.34 508.74 298.03 508.74 300.73 508.74C303.81 508.74 306.89 508.51 309.97 508.51C312.28 508.51 314.60 508.58 316.91 508.74C317.94 508.81 318.97 509.09 320.00 509.43C321.54 509.95 323.08 510.69 324.62 511.74C326.55 513.07 328.47 515.63 330.40 517.06C332.33 518.48 334.25 519.72 336.18 520.29C337.72 520.76 339.26 520.53 340.80 520.99C342.73 521.57 344.65 523.24 346.58 524.45C348.89 525.91 351.20 527.96 353.51 529.08C355.82 530.19 358.13 531.16 360.44 531.16C362.37 531.16 364.30 530.27 366.22 529.08C368.15 527.88 370.07 525.73 372.00 523.99C373.92 522.26 375.85 519.84 377.78 518.68C379.32 517.75 380.86 517.06 382.40 517.06C385.48 517.06 388.56 517.06 391.64 517.06C394.72 517.06 397.81 517.29 400.89 517.29C403.58 517.29 406.28 517.21 408.98 517.06C410.90 516.95 412.83 514.62 414.75 513.36C417.06 511.85 419.38 509.70 421.69 508.74C423.23 508.10 424.77 507.58 426.31 507.58C427.85 507.58 429.39 507.93 430.93 508.28C433.24 508.79 435.55 509.89 437.86 510.59C440.18 511.28 442.49 512.13 444.80 512.44C447.11 512.74 449.42 512.90 451.73 512.90C454.04 512.90 456.35 512.01 458.66 511.51C460.98 511.01 463.29 510.32 465.60 509.89C467.91 509.47 470.22 509.09 472.53 508.97C475.61 508.82 478.69 508.85 481.77 508.74C484.86 508.62 487.94 508.47 491.02 508.28C494.10 508.08 497.18 507.97 500.26 507.58C503.34 507.20 506.43 506.35 509.51 505.97C512.59 505.58 515.67 505.58 518.75 505.27C521.83 504.96 524.91 504.46 528.00 504.12C531.08 503.77 534.16 503.48 537.24 503.19C538.16 503.11 539.08 502.94 540.00 502.94C543.85 502.94 547.70 503.60 551.56 503.87C555.41 504.14 559.26 504.56 563.11 504.56C564.65 504.56 566.19 503.26 567.73 501.79C569.66 499.95 571.58 496.28 573.51 493.70C575.44 491.12 577.36 487.69 579.29 486.30C581.21 484.92 583.14 484.22 585.07 484.22C586.99 484.22 588.92 484.92 590.84 485.61C593.15 486.44 595.47 488.11 597.78 489.08C600.09 490.04 602.40 491.27 604.71 491.39C607.79 491.54 610.87 491.62 613.95 491.62C617.04 491.62 620.12 491.62 623.20 491.62C626.28 491.62 629.36 491.54 632.44 491.39C634.37 491.29 636.29 488.50 638.22 486.77C640.15 485.03 642.07 482.49 644.00 480.99C645.92 479.49 647.85 478.21 649.78 477.75C651.70 477.29 653.63 477.52 655.55 477.06C657.86 476.50 660.18 474.94 662.49 474.05C664.80 473.17 667.11 472.24 669.42 471.74C671.35 471.33 673.27 471.05 675.20 471.05C676.35 471.05 677.51 471.98 678.66 473.36C680.20 475.20 681.75 479.37 683.29 482.14C685.21 485.61 687.14 489.46 689.06 491.85C690.99 494.24 692.92 496.22 694.84 496.47C697.15 496.78 699.46 496.93 701.77 496.93C704.86 496.93 707.94 496.70 711.02 496.70C714.10 496.70 717.18 496.78 720.26 496.93C723.34 497.09 726.43 497.42 729.51 497.63C733.36 497.89 737.21 498.32 741.06 498.32C744.14 498.32 747.23 497.78 750.31 497.40C753.39 497.01 756.47 496.38 759.55 496.01C761.86 495.73 764.17 495.78 766.48 495.32C768.03 495.01 769.57 492.99 771.11 491.39C773.03 489.38 774.96 486.13 776.88 483.99C777.92 482.84 778.96 481.52 780.00 480.83C781.24 480.00 782.47 479.76 783.71 479.59C784.94 479.43 786.18 479.34 787.41 479.34C788.65 479.34 789.89 480.43 791.12 481.57C792.77 483.09 794.42 486.13 796.07 488.24C798.12 490.88 800.18 493.99 802.24 495.66C803.89 496.99 805.54 497.80 807.19 498.13C809.66 498.62 812.13 498.61 814.60 498.87C817.49 499.18 820.37 499.67 823.25 499.86C825.72 500.02 828.20 500.10 830.67 500.10C832.32 500.10 833.96 499.68 835.61 498.87C837.67 497.85 839.73 495.57 841.79 493.93C843.85 492.28 845.91 490.17 847.97 488.98C849.62 488.03 851.26 487.14 852.91 487.01C854.97 486.84 857.03 486.87 859.09 486.76C861.56 486.63 864.03 486.39 866.51 486.26C869.39 486.12 872.27 486.02 875.16 486.02C877.22 486.02 879.28 486.37 881.33 486.76C883.81 487.22 886.28 488.11 888.75 488.74C890.81 489.25 892.87 489.88 894.93 490.22C896.58 490.49 898.22 490.71 899.87 490.71C901.52 490.71 903.17 489.43 904.81 488.24C906.87 486.75 908.93 484.00 910.99 482.06C913.05 480.13 915.11 477.89 917.17 476.62C918.82 475.61 920.47 475.13 922.12 474.65C924.18 474.04 926.23 474.28 928.29 473.66C930.35 473.04 932.41 471.80 934.47 470.94C936.53 470.07 938.59 469.12 940.65 468.47C942.30 467.95 943.95 468.06 945.60 467.23C946.83 466.61 948.07 465.69 949.30 463.53C950.95 460.64 952.60 454.26 954.25 449.93C955.89 445.61 957.54 440.47 959.19 437.57C960.43 435.40 961.66 433.74 962.90 433.12C964.54 432.30 966.19 432.53 967.84 431.89C969.90 431.09 971.96 429.54 974.02 428.43C976.08 427.32 978.14 426.09 980.20 425.22C981.85 424.51 983.49 423.49 985.14 423.49C986.38 423.49 987.61 423.49 988.85 423.49C990.08 423.49 991.32 425.43 992.56 427.69C994.20 430.70 995.85 437.51 997.50 441.28C998.33 443.19 999.17 444.61 1000.00 446.43C1000.99 448.59 1001.98 451.37 1002.97 453.35C1003.95 455.33 1004.94 457.31 1005.93 458.29C1007.25 459.61 1008.57 458.98 1009.89 460.27C1010.87 461.24 1011.86 463.40 1012.85 464.22C1013.51 464.77 1014.17 465.21 1014.83 465.21C1015.49 465.21 1016.15 463.83 1016.81 463.83C1017.46 463.83 1018.12 465.81 1018.78 465.81C1019.44 465.81 1020.10 465.48 1020.76 465.21C1021.42 464.95 1022.08 464.55 1022.74 464.22C1023.40 463.90 1024.05 463.63 1024.71 463.24C1025.37 462.84 1026.03 461.85 1026.69 461.85C1027.35 461.85 1028.01 463.24 1028.67 463.24C1029.33 463.24 1029.99 462.25 1030.64 462.25C1031.30 462.25 1031.96 462.64 1032.62 462.64C1033.28 462.64 1033.94 461.26 1034.60 461.26C1035.26 461.26 1035.92 461.62 1036.58 461.85C1037.23 462.08 1037.89 462.12 1038.55 462.64C1039.21 463.17 1039.87 464.62 1040.53 465.21C1041.19 465.81 1041.85 465.54 1042.51 466.20C1042.97 466.66 1043.43 469.24 1043.89 470.16C1044.42 471.21 1044.95 471.74 1045.47 471.74C1046.00 471.74 1046.53 470.16 1047.05 470.16C1047.52 470.16 1047.98 472.17 1048.44 473.12C1048.77 473.80 1049.10 475.10 1049.43 475.10C1049.95 475.10 1050.48 472.80 1051.01 472.13C1051.47 471.55 1051.93 471.14 1052.39 471.14C1052.85 471.14 1053.31 471.44 1053.78 471.74C1054.30 472.07 1054.83 472.73 1055.36 473.12C1055.89 473.52 1056.41 473.63 1056.94 474.11C1057.40 474.53 1057.86 475.20 1058.32 475.69C1058.78 476.19 1059.25 476.70 1059.71 477.08C1060.23 477.51 1060.76 477.57 1061.29 478.06C1061.82 478.56 1062.34 479.01 1062.87 480.04C1063.27 480.82 1063.66 481.72 1064.06 483.01C1064.32 483.86 1064.58 484.00 1064.85 485.97C1065.05 487.46 1065.24 505.35 1065.44 505.35C1065.64 505.35 1065.84 487.62 1066.03 486.96C1066.43 485.64 1066.82 485.97 1067.22 484.98C1067.62 484.00 1068.01 481.29 1068.41 481.03C1069.00 480.63 1069.59 480.44 1070.19 480.44C1070.84 480.44 1071.50 480.63 1072.16 481.03C1072.62 481.31 1073.09 482.47 1073.55 483.01C1074.07 483.62 1074.60 484.06 1075.13 484.39C1075.66 484.72 1076.18 484.59 1076.71 484.98C1077.24 485.38 1077.76 487.03 1078.29 487.55C1078.82 488.08 1079.35 488.34 1079.87 488.34C1080.40 488.34 1080.93 487.95 1081.46 487.95C1081.98 487.95 1082.51 488.54 1083.04 488.54C1083.56 488.54 1084.09 487.95 1084.62 487.95C1085.15 487.95 1085.67 488.44 1086.20 488.94C1086.73 489.43 1087.25 490.03 1087.78 490.92C1088.31 491.80 1088.84 493.52 1089.36 494.28C1089.89 495.03 1090.42 495.20 1090.95 495.46C1091.47 495.73 1092.00 495.86 1092.53 495.86C1093.05 495.86 1093.58 495.46 1094.11 495.46C1094.64 495.46 1095.16 496.45 1095.69 496.45C1096.09 496.45 1096.48 496.39 1096.88 496.25C1097.40 496.08 1097.93 494.14 1098.46 493.49C1098.99 492.83 1099.51 492.30 1100.04 492.30C1100.57 492.30 1101.09 493.49 1101.62 493.49C1102.15 493.49 1102.68 492.89 1103.20 492.89C1103.73 492.89 1104.26 493.30 1104.78 493.49C1105.19 493.63 1105.59 493.75 1106.00 493.88" fill="none" stroke="#546E7A" stroke-width="1.1" stroke-linejoin="round" stroke-linecap="butt"/>

<g stroke="#dfe3e6" stroke-width="1" fill="none"><line x1="115.4" y1="547" x2="115.4" y2="553"/><line x1="248.7" y1="547" x2="248.7" y2="553"/><line x1="384.2" y1="547" x2="384.2" y2="553"/><line x1="517.6" y1="547" x2="517.6" y2="553"/><line x1="652.5" y1="547" x2="652.5" y2="553"/><line x1="786.4" y1="547" x2="786.4" y2="553"/><line x1="921.4" y1="547" x2="921.4" y2="553"/><line x1="1055.0" y1="547" x2="1055.0" y2="553"/></g>
<g font-family="Liberation Sans, sans-serif" font-size="11" fill="#6b7280" letter-spacing="0.6"><text x="61" y="138.05" text-anchor="end">30 000</text><text x="61" y="219.95" text-anchor="end">25 000</text><text x="61" y="303.25" text-anchor="end">20 000</text><text x="61" y="385.15" text-anchor="end" letter-spacing="0.15">15 000</text><text x="61" y="468.45" text-anchor="end" letter-spacing="0.15">10 000</text><text x="61" y="551.05" text-anchor="end">5000</text></g>
<g font-family="Liberation Sans, sans-serif" font-size="12" fill="#6b7280"><text x="115.8" y="571.1" text-anchor="middle" font-weight="700" letter-spacing="0.85">2022</text><text x="248.9" y="571.1" text-anchor="middle" letter-spacing="0.4">Lip '22</text><text x="384.6" y="571.1" text-anchor="middle" font-weight="700" letter-spacing="0.85">2023</text><text x="517.8" y="571.1" text-anchor="middle" letter-spacing="0.4">Lip '23</text><text x="652.9" y="571.1" text-anchor="middle" font-weight="700" letter-spacing="0.85">2024</text><text x="786.6" y="571.1" text-anchor="middle" letter-spacing="0.4">Lip '24</text><text x="921.8" y="571.1" text-anchor="middle" font-weight="700" letter-spacing="0.85">2025</text><text x="1055.2" y="571.1" text-anchor="middle" letter-spacing="0.4">Lip '25</text></g>
</svg>
<span class="dot" style="left:354.4px;background:#008FFB"></span><span class="lt" style="left:370.7px">Warszawa</span><span class="dot" style="left:440.2px;background:#00E396"></span><span class="lt" style="left:456.2px">Kraków</span><span class="dot" style="left:509.4px;background:#FEB019"></span><span class="lt" style="left:525.6px">Wrocław</span><span class="dot" style="left:585.3px;background:#FF4560"></span><span class="lt" style="left:601.7px">Poznań</span><span class="dot" style="left:655.4px;background:#775DD0"></span><span class="lt" style="left:670.9px">Łódź</span><span class="dot" style="left:710.2px;background:#546E7A"></span><span class="lt" style="left:725.9px">Gdańsk</span>
</body></html>
